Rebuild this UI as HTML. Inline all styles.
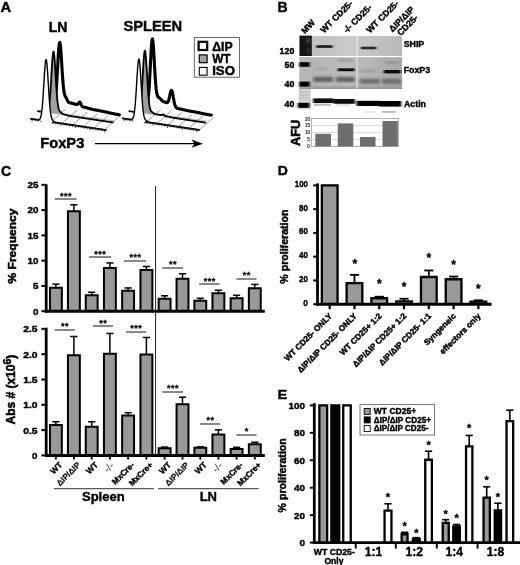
<!DOCTYPE html>
<html><head><meta charset="utf-8"><title>Figure</title>
<style>
html,body{margin:0;padding:0;background:#fff;}
body{width:520px;height:565px;overflow:hidden;}
svg{display:block;font-family:'Liberation Sans', sans-serif;}
</style></head><body>
<svg width="520" height="565" viewBox="0 0 520 565">
<rect width="520" height="565" fill="#fff"/>
<text x="0.5" y="11.9" font-size="14.8" font-weight="bold" text-anchor="start" fill="#000" stroke="#000" stroke-width="0.4" stroke-linejoin="round">A</text>
<text x="277.6" y="11.6" font-size="14" font-weight="bold" text-anchor="start" fill="#000" stroke="#000" stroke-width="0.4" stroke-linejoin="round">B</text>
<text x="0.9" y="175.7" font-size="14.1" font-weight="bold" text-anchor="start" fill="#000" stroke="#000" stroke-width="0.4" stroke-linejoin="round">C</text>
<text x="277.7" y="174.6" font-size="13.7" font-weight="bold" text-anchor="start" fill="#000" stroke="#000" stroke-width="0.4" stroke-linejoin="round" textLength="10.1" lengthAdjust="spacingAndGlyphs">D</text>
<text x="277.5" y="398.6" font-size="13.5" font-weight="bold" text-anchor="start" fill="#000" stroke="#000" stroke-width="0.4" stroke-linejoin="round" textLength="9.8" lengthAdjust="spacingAndGlyphs">E</text>
<text x="58" y="31.8" font-size="14" font-weight="bold" text-anchor="middle" fill="#000" stroke="#000" stroke-width="0.4" stroke-linejoin="round">LN</text>
<text x="123.4" y="31.2" font-size="14" font-weight="bold" text-anchor="start" fill="#000" stroke="#000" stroke-width="0.4" stroke-linejoin="round" textLength="58.8" lengthAdjust="spacingAndGlyphs">SPLEEN</text>
<text x="40.2" y="147.6" font-size="14" font-weight="bold" text-anchor="start" fill="#000" stroke="#000" stroke-width="0.4" stroke-linejoin="round" textLength="44.2" lengthAdjust="spacingAndGlyphs">FoxP3</text>
<line x1="95" y1="143.7" x2="196" y2="143.7" stroke="#000" stroke-width="1.3"/>
<path d="M203,143.7 L191.5,139.6 L194.5,143.7 L191.5,147.8 Z" fill="#000"/>
<line x1="51.5" y1="121.7" x2="65.9" y2="108.9" stroke="#9c9c9c" stroke-width="1"/>
<line x1="62.1" y1="123.3" x2="76.5" y2="110.5" stroke="#9c9c9c" stroke-width="1"/>
<line x1="72.7" y1="124.9" x2="87.1" y2="112.1" stroke="#9c9c9c" stroke-width="1"/>
<line x1="83.3" y1="126.5" x2="97.7" y2="113.7" stroke="#9c9c9c" stroke-width="1"/>
<line x1="93.9" y1="128.1" x2="108.3" y2="115.3" stroke="#9c9c9c" stroke-width="1"/>
<line x1="104.5" y1="129.7" x2="118.9" y2="116.8" stroke="#9c9c9c" stroke-width="1"/>
<line x1="51.0" y1="103.9" x2="117.6" y2="114.2" stroke="#9a9a9a" stroke-width="0.8"/>
<polygon points="45.0,103.6 45.4,103.7 45.8,103.7 46.2,103.8 46.6,103.8 47.0,103.9 47.4,104.0 47.8,104.0 48.2,104.1 48.6,104.1 49.0,104.2 49.4,104.3 49.8,104.3 50.2,104.4 50.6,104.4 51.0,104.5 51.4,104.5 51.8,104.6 52.2,104.6 52.6,104.6 53.0,104.5 53.4,104.4 53.8,104.1 54.2,103.5 54.6,102.3 55.0,100.5 55.4,97.9 55.8,94.3 56.2,89.8 56.6,84.4 57.0,78.0 57.4,71.0 57.8,63.8 58.2,56.8 58.6,50.7 59.0,46.0 59.4,43.1 59.8,42.4 60.2,44.0 60.6,47.4 61.0,52.4 61.4,58.4 61.8,64.9 62.2,71.3 62.6,77.2 63.0,82.4 63.4,86.7 63.8,90.0 64.2,92.6 64.6,94.4 65.0,95.7 65.4,96.5 65.8,97.2 66.2,97.9 66.6,98.7 67.0,99.5 67.4,100.4 67.8,101.2 68.2,101.9 68.6,102.4 69.0,102.6 69.4,102.7 69.8,102.7 70.2,102.8 70.6,102.9 71.0,103.0 71.4,103.2 71.8,103.3 72.2,103.4 72.6,103.5 73.0,103.6 73.4,103.7 73.8,103.9 74.2,104.0 74.6,104.1 75.0,104.2 75.4,104.2 75.8,104.3 76.2,104.4 76.6,104.3 77.0,104.3 77.4,104.3 77.8,104.2 78.2,103.8 78.6,103.1 79.0,102.5 79.4,102.0 79.8,102.1 80.2,102.5 80.6,103.3 81.0,104.2 81.4,105.1 81.8,105.9 82.2,106.6 82.6,106.8 83.0,106.9 83.4,107.0 83.8,107.1 84.2,107.1 84.6,107.2 85.0,107.3 85.4,107.4 85.8,107.5 86.2,107.6 86.6,107.7 87.0,107.8 87.4,108.0 87.8,108.1 88.2,108.2 88.6,108.3 89.0,108.4 89.4,108.5 89.8,108.7 90.2,108.8 90.6,108.9 91.0,109.0 91.4,109.1 91.8,109.2 92.2,109.3 92.6,109.4 93.0,109.5 93.4,109.6 93.8,109.7 94.2,109.8 94.6,109.8 95.0,109.9 95.4,110.0 95.8,110.0 96.2,110.1 96.6,110.2 97.0,110.2 97.4,110.3 97.8,110.4 98.2,110.4 98.6,110.5 99.0,110.6 99.4,110.7 99.8,110.7 100.2,110.8 100.6,110.9 101.0,111.0 101.4,111.1 101.8,111.2 102.2,111.2 102.6,111.3 103.0,111.4 103.4,111.5 103.8,111.6 104.2,111.7 104.6,111.8 105.0,111.9 105.4,111.9 105.8,112.0 106.2,112.1 106.6,112.2 107.0,112.3 107.4,112.4 107.8,112.5 108.2,112.6 108.6,112.7 109.0,112.7 109.4,112.8 109.8,112.9 110.2,113.0 110.6,113.1 111.0,113.2 111.4,113.3 111.8,113.4 112.2,113.4 112.6,113.5 113.0,113.6 113.4,113.7 113.8,113.8 114.2,113.9 114.6,113.9 115.0,114.0 115.4,114.1 115.8,114.2 116.2,114.2 116.6,114.3 117.0,114.4 117.4,114.4 117.8,114.5 118.2,114.6 118.6,114.6 119.0,114.7 119.4,114.8" fill="#fff"/>
<polyline points="45.0,103.6 45.4,103.7 45.8,103.7 46.2,103.8 46.6,103.8 47.0,103.9 47.4,104.0 47.8,104.0 48.2,104.1 48.6,104.1 49.0,104.2 49.4,104.3 49.8,104.3 50.2,104.4 50.6,104.4 51.0,104.5 51.4,104.5 51.8,104.6 52.2,104.6 52.6,104.6 53.0,104.5 53.4,104.4 53.8,104.1 54.2,103.5 54.6,102.3 55.0,100.5 55.4,97.9 55.8,94.3 56.2,89.8 56.6,84.4 57.0,78.0 57.4,71.0 57.8,63.8 58.2,56.8 58.6,50.7 59.0,46.0 59.4,43.1 59.8,42.4 60.2,44.0 60.6,47.4 61.0,52.4 61.4,58.4 61.8,64.9 62.2,71.3 62.6,77.2 63.0,82.4 63.4,86.7 63.8,90.0 64.2,92.6 64.6,94.4 65.0,95.7 65.4,96.5 65.8,97.2 66.2,97.9 66.6,98.7 67.0,99.5 67.4,100.4 67.8,101.2 68.2,101.9 68.6,102.4 69.0,102.6 69.4,102.7 69.8,102.7 70.2,102.8 70.6,102.9 71.0,103.0 71.4,103.2 71.8,103.3 72.2,103.4 72.6,103.5 73.0,103.6 73.4,103.7 73.8,103.9 74.2,104.0 74.6,104.1 75.0,104.2 75.4,104.2 75.8,104.3 76.2,104.4 76.6,104.3 77.0,104.3 77.4,104.3 77.8,104.2 78.2,103.8 78.6,103.1 79.0,102.5 79.4,102.0 79.8,102.1 80.2,102.5 80.6,103.3 81.0,104.2 81.4,105.1 81.8,105.9 82.2,106.6 82.6,106.8 83.0,106.9 83.4,107.0 83.8,107.1 84.2,107.1 84.6,107.2 85.0,107.3 85.4,107.4 85.8,107.5 86.2,107.6 86.6,107.7 87.0,107.8 87.4,108.0 87.8,108.1 88.2,108.2 88.6,108.3 89.0,108.4 89.4,108.5 89.8,108.7 90.2,108.8 90.6,108.9 91.0,109.0 91.4,109.1 91.8,109.2 92.2,109.3 92.6,109.4 93.0,109.5 93.4,109.6 93.8,109.7 94.2,109.8 94.6,109.8 95.0,109.9 95.4,110.0 95.8,110.0 96.2,110.1 96.6,110.2 97.0,110.2 97.4,110.3 97.8,110.4 98.2,110.4 98.6,110.5 99.0,110.6 99.4,110.7 99.8,110.7 100.2,110.8 100.6,110.9 101.0,111.0 101.4,111.1 101.8,111.2 102.2,111.2 102.6,111.3 103.0,111.4 103.4,111.5 103.8,111.6 104.2,111.7 104.6,111.8 105.0,111.9 105.4,111.9 105.8,112.0 106.2,112.1 106.6,112.2 107.0,112.3 107.4,112.4 107.8,112.5 108.2,112.6 108.6,112.7 109.0,112.7 109.4,112.8 109.8,112.9 110.2,113.0 110.6,113.1 111.0,113.2 111.4,113.3 111.8,113.4 112.2,113.4 112.6,113.5 113.0,113.6 113.4,113.7 113.8,113.8 114.2,113.9 114.6,113.9 115.0,114.0 115.4,114.1 115.8,114.2 116.2,114.2 116.6,114.3 117.0,114.4 117.4,114.4 117.8,114.5 118.2,114.6 118.6,114.6 119.0,114.7 119.4,114.8" fill="none" stroke="#000" stroke-width="3.1" stroke-linejoin="round" stroke-linecap="round"/>
<polygon points="38.0,111.2 38.4,111.3 38.8,111.3 39.2,111.4 39.6,111.4 40.0,111.5 40.4,111.6 40.8,111.6 41.2,111.7 41.6,111.7 42.0,111.8 42.4,111.9 42.8,111.9 43.2,112.0 43.6,112.0 44.0,112.1 44.4,112.2 44.8,112.2 45.2,112.3 45.6,112.3 46.0,112.3 46.4,112.2 46.8,112.1 47.2,111.9 47.6,111.4 48.0,110.6 48.4,109.4 48.8,107.6 49.2,105.0 49.6,101.5 50.0,97.1 50.4,91.7 50.8,85.5 51.2,78.7 51.6,71.8 52.0,65.1 52.4,59.3 52.8,54.8 53.2,52.2 53.6,51.6 54.0,53.2 54.4,56.8 54.8,61.9 55.2,68.1 55.6,74.9 56.0,81.7 56.4,88.1 56.8,93.8 57.2,98.6 57.6,102.4 58.0,105.4 58.4,107.6 58.8,109.2 59.2,110.3 59.6,111.0 60.0,111.5 60.4,111.8 60.8,112.2 61.2,112.5 61.6,112.9 62.0,113.2 62.4,113.6 62.8,113.9 63.2,114.2 63.6,114.4 64.0,114.5 64.4,114.6 64.8,114.6 65.2,114.7 65.6,114.8 66.0,115.0 66.4,115.1 66.8,115.2 67.2,115.3 67.6,115.4 68.0,115.5 68.4,115.7 68.8,115.8 69.2,115.9 69.6,115.9 70.0,116.0 70.4,116.1 70.8,116.1 71.2,116.2 71.6,116.2 72.0,116.3 72.4,116.4 72.8,116.4 73.2,116.5 73.6,116.5 74.0,116.6 74.4,116.7 74.8,116.7 75.2,116.8 75.6,116.8 76.0,116.9 76.4,117.0 76.8,117.0 77.2,117.1 77.6,117.1 78.0,117.2 78.4,117.3 78.8,117.3 79.2,117.4 79.6,117.4 80.0,117.5 80.4,117.6 80.8,117.6 81.2,117.7 81.6,117.7 82.0,117.8 82.4,117.9 82.8,117.9 83.2,118.0 83.6,118.0 84.0,118.1 84.4,118.2 84.8,118.2 85.2,118.3 85.6,118.3 86.0,118.4 86.4,118.5 86.8,118.5 87.2,118.6 87.6,118.6 88.0,118.7 88.4,118.8 88.8,118.8 89.2,118.9 89.6,118.9 90.0,119.0 90.4,119.1 90.8,119.1 91.2,119.2 91.6,119.2 92.0,119.3 92.4,119.4 92.8,119.4 93.2,119.5 93.6,119.5 94.0,119.6 94.4,119.7 94.8,119.7 95.2,119.8 95.6,119.8 96.0,119.9 96.4,120.0 96.8,120.0 97.2,120.1 97.6,120.1 98.0,120.2 98.4,120.3 98.8,120.3 99.2,120.4 99.6,120.4 100.0,120.5 100.4,120.6 100.8,120.6 101.2,120.7 101.6,120.7 102.0,120.8 102.4,120.9 102.8,120.9 103.2,121.0 103.6,121.0 104.0,121.1 104.4,121.2 104.8,121.2 105.2,121.3 105.6,121.3 106.0,121.4 106.4,121.5 106.8,121.5 107.2,121.6 107.6,121.6 108.0,121.7 108.4,121.8 108.8,121.8 109.2,121.9 109.6,121.9 110.0,122.0 110.4,122.1 110.8,122.1 111.2,122.2 111.6,122.2 112.0,122.3 112.4,122.4 112.8,122.4" fill="#a0a0a0"/>
<line x1="52.0" y1="112.1" x2="115.0" y2="121.0" stroke="#a5a5a5" stroke-width="0.8"/>
<polyline points="38.0,111.2 38.4,111.3 38.8,111.3 39.2,111.4 39.6,111.4 40.0,111.5 40.4,111.6 40.8,111.6 41.2,111.7 41.6,111.7 42.0,111.8 42.4,111.9 42.8,111.9 43.2,112.0 43.6,112.0 44.0,112.1 44.4,112.2 44.8,112.2 45.2,112.3 45.6,112.3 46.0,112.3 46.4,112.2 46.8,112.1 47.2,111.9 47.6,111.4 48.0,110.6 48.4,109.4 48.8,107.6 49.2,105.0 49.6,101.5 50.0,97.1 50.4,91.7 50.8,85.5 51.2,78.7 51.6,71.8 52.0,65.1 52.4,59.3 52.8,54.8 53.2,52.2 53.6,51.6 54.0,53.2 54.4,56.8 54.8,61.9 55.2,68.1 55.6,74.9 56.0,81.7 56.4,88.1 56.8,93.8 57.2,98.6 57.6,102.4 58.0,105.4 58.4,107.6 58.8,109.2 59.2,110.3 59.6,111.0 60.0,111.5 60.4,111.8 60.8,112.2 61.2,112.5 61.6,112.9 62.0,113.2 62.4,113.6 62.8,113.9 63.2,114.2 63.6,114.4 64.0,114.5 64.4,114.6 64.8,114.6 65.2,114.7 65.6,114.8 66.0,115.0 66.4,115.1 66.8,115.2 67.2,115.3 67.6,115.4 68.0,115.5 68.4,115.7 68.8,115.8 69.2,115.9 69.6,115.9 70.0,116.0 70.4,116.1 70.8,116.1 71.2,116.2 71.6,116.2 72.0,116.3 72.4,116.4 72.8,116.4 73.2,116.5 73.6,116.5 74.0,116.6 74.4,116.7 74.8,116.7 75.2,116.8 75.6,116.8 76.0,116.9 76.4,117.0 76.8,117.0 77.2,117.1 77.6,117.1 78.0,117.2 78.4,117.3 78.8,117.3 79.2,117.4 79.6,117.4 80.0,117.5 80.4,117.6 80.8,117.6 81.2,117.7 81.6,117.7 82.0,117.8 82.4,117.9 82.8,117.9 83.2,118.0 83.6,118.0 84.0,118.1 84.4,118.2 84.8,118.2 85.2,118.3 85.6,118.3 86.0,118.4 86.4,118.5 86.8,118.5 87.2,118.6 87.6,118.6 88.0,118.7 88.4,118.8 88.8,118.8 89.2,118.9 89.6,118.9 90.0,119.0 90.4,119.1 90.8,119.1 91.2,119.2 91.6,119.2 92.0,119.3 92.4,119.4 92.8,119.4 93.2,119.5 93.6,119.5 94.0,119.6 94.4,119.7 94.8,119.7 95.2,119.8 95.6,119.8 96.0,119.9 96.4,120.0 96.8,120.0 97.2,120.1 97.6,120.1 98.0,120.2 98.4,120.3 98.8,120.3 99.2,120.4 99.6,120.4 100.0,120.5 100.4,120.6 100.8,120.6 101.2,120.7 101.6,120.7 102.0,120.8 102.4,120.9 102.8,120.9 103.2,121.0 103.6,121.0 104.0,121.1 104.4,121.2 104.8,121.2 105.2,121.3 105.6,121.3 106.0,121.4 106.4,121.5 106.8,121.5 107.2,121.6 107.6,121.6 108.0,121.7 108.4,121.8 108.8,121.8 109.2,121.9 109.6,121.9 110.0,122.0 110.4,122.1 110.8,122.1 111.2,122.2 111.6,122.2 112.0,122.3 112.4,122.4 112.8,122.4" fill="none" stroke="#000" stroke-width="1.8" stroke-linejoin="round" stroke-linecap="round"/>
<polygon points="30.6,118.6 31.0,118.7 31.4,118.7 31.8,118.8 32.2,118.8 32.6,118.9 33.0,119.0 33.4,119.0 33.8,119.1 34.2,119.1 34.6,119.2 35.0,119.3 35.4,119.3 35.8,119.4 36.2,119.4 36.6,119.5 37.0,119.5 37.4,119.6 37.8,119.6 38.2,119.7 38.6,119.6 39.0,119.5 39.4,119.4 39.8,119.0 40.2,118.4 40.6,117.5 41.0,116.0 41.4,114.0 41.8,111.2 42.2,107.5 42.6,103.0 43.0,97.6 43.4,91.5 43.8,84.9 44.2,78.2 44.6,71.9 45.0,66.4 45.4,62.3 45.8,59.9 46.2,59.5 46.6,61.1 47.0,64.4 47.4,69.3 47.8,75.3 48.2,81.9 48.6,88.6 49.0,95.0 49.4,100.7 49.8,105.7 50.2,109.8 50.6,113.1 51.0,115.5 51.4,117.3 51.8,118.6 52.2,119.4 52.6,120.0 53.0,120.5 53.4,120.9 53.8,121.3 54.2,121.6 54.6,121.8 55.0,122.1 55.4,122.2 55.8,122.4 56.2,122.4 56.6,122.5 57.0,122.6 57.4,122.6 57.8,122.7 58.2,122.7 58.6,122.8 59.0,122.9 59.4,122.9 59.8,123.0 60.2,123.0 60.6,123.1 61.0,123.2 61.4,123.2 61.8,123.3 62.2,123.3 62.6,123.4 63.0,123.5 63.4,123.5 63.8,123.6 64.2,123.6 64.6,123.7 65.0,123.8 65.4,123.8 65.8,123.9 66.2,123.9 66.6,124.0 67.0,124.1 67.4,124.1 67.8,124.2 68.2,124.2 68.6,124.3 69.0,124.4 69.4,124.4 69.8,124.5 70.2,124.5 70.6,124.6 71.0,124.7 71.4,124.7 71.8,124.8 72.2,124.8 72.6,124.9 73.0,125.0 73.4,125.0 73.8,125.1 74.2,125.1 74.6,125.2 75.0,125.3 75.4,125.3 75.8,125.4 76.2,125.4 76.6,125.5 77.0,125.6 77.4,125.6 77.8,125.7 78.2,125.7 78.6,125.8 79.0,125.9 79.4,125.9 79.8,126.0 80.2,126.0 80.6,126.1 81.0,126.2 81.4,126.2 81.8,126.3 82.2,126.3 82.6,126.4 83.0,126.5 83.4,126.5 83.8,126.6 84.2,126.6 84.6,126.7 85.0,126.8 85.4,126.8 85.8,126.9 86.2,126.9 86.6,127.0 87.0,127.1 87.4,127.1 87.8,127.2 88.2,127.2 88.6,127.3 89.0,127.4 89.4,127.4 89.8,127.5 90.2,127.5 90.6,127.6 91.0,127.7 91.4,127.7 91.8,127.8 92.2,127.8 92.6,127.9 93.0,128.0 93.4,128.0 93.8,128.1 94.2,128.1 94.6,128.2 95.0,128.3 95.4,128.3 95.8,128.4 96.2,128.4 96.6,128.5 97.0,128.6 97.4,128.6 97.8,128.7 98.2,128.7 98.6,128.8 99.0,128.9 99.4,128.9 99.8,129.0 100.2,129.0 100.6,129.1 101.0,129.2 101.4,129.2 101.8,129.3 102.2,129.3 102.6,129.4 103.0,129.5 103.4,129.5 103.8,129.6 104.2,129.6 104.6,129.7 105.0,129.8 105.4,129.8 105.8,129.9 106.2,129.9" fill="#fff"/>
<polyline points="30.6,118.6 31.0,118.7 31.4,118.7 31.8,118.8 32.2,118.8 32.6,118.9 33.0,119.0 33.4,119.0 33.8,119.1 34.2,119.1 34.6,119.2 35.0,119.3 35.4,119.3 35.8,119.4 36.2,119.4 36.6,119.5 37.0,119.5 37.4,119.6 37.8,119.6 38.2,119.7 38.6,119.6 39.0,119.5 39.4,119.4 39.8,119.0 40.2,118.4 40.6,117.5 41.0,116.0 41.4,114.0 41.8,111.2 42.2,107.5 42.6,103.0 43.0,97.6 43.4,91.5 43.8,84.9 44.2,78.2 44.6,71.9 45.0,66.4 45.4,62.3 45.8,59.9 46.2,59.5 46.6,61.1 47.0,64.4 47.4,69.3 47.8,75.3 48.2,81.9 48.6,88.6 49.0,95.0 49.4,100.7 49.8,105.7 50.2,109.8 50.6,113.1 51.0,115.5 51.4,117.3 51.8,118.6 52.2,119.4 52.6,120.0 53.0,120.5 53.4,120.9 53.8,121.3 54.2,121.6 54.6,121.8 55.0,122.1 55.4,122.2 55.8,122.4 56.2,122.4 56.6,122.5 57.0,122.6 57.4,122.6 57.8,122.7 58.2,122.7 58.6,122.8 59.0,122.9 59.4,122.9 59.8,123.0 60.2,123.0 60.6,123.1 61.0,123.2 61.4,123.2 61.8,123.3 62.2,123.3 62.6,123.4 63.0,123.5 63.4,123.5 63.8,123.6 64.2,123.6 64.6,123.7 65.0,123.8 65.4,123.8 65.8,123.9 66.2,123.9 66.6,124.0 67.0,124.1 67.4,124.1 67.8,124.2 68.2,124.2 68.6,124.3 69.0,124.4 69.4,124.4 69.8,124.5 70.2,124.5 70.6,124.6 71.0,124.7 71.4,124.7 71.8,124.8 72.2,124.8 72.6,124.9 73.0,125.0 73.4,125.0 73.8,125.1 74.2,125.1 74.6,125.2 75.0,125.3 75.4,125.3 75.8,125.4 76.2,125.4 76.6,125.5 77.0,125.6 77.4,125.6 77.8,125.7 78.2,125.7 78.6,125.8 79.0,125.9 79.4,125.9 79.8,126.0 80.2,126.0 80.6,126.1 81.0,126.2 81.4,126.2 81.8,126.3 82.2,126.3 82.6,126.4 83.0,126.5 83.4,126.5 83.8,126.6 84.2,126.6 84.6,126.7 85.0,126.8 85.4,126.8 85.8,126.9 86.2,126.9 86.6,127.0 87.0,127.1 87.4,127.1 87.8,127.2 88.2,127.2 88.6,127.3 89.0,127.4 89.4,127.4 89.8,127.5 90.2,127.5 90.6,127.6 91.0,127.7 91.4,127.7 91.8,127.8 92.2,127.8 92.6,127.9 93.0,128.0 93.4,128.0 93.8,128.1 94.2,128.1 94.6,128.2 95.0,128.3 95.4,128.3 95.8,128.4 96.2,128.4 96.6,128.5 97.0,128.6 97.4,128.6 97.8,128.7 98.2,128.7 98.6,128.8 99.0,128.9 99.4,128.9 99.8,129.0 100.2,129.0 100.6,129.1 101.0,129.2 101.4,129.2 101.8,129.3 102.2,129.3 102.6,129.4 103.0,129.5 103.4,129.5 103.8,129.6 104.2,129.6 104.6,129.7 105.0,129.8 105.4,129.8 105.8,129.9 106.2,129.9" fill="none" stroke="#000" stroke-width="1.4" stroke-linejoin="round" stroke-linecap="round"/>
<line x1="52.1" y1="122.2" x2="106.2" y2="130.3" stroke="#111" stroke-width="1.6"/>
<line x1="30.6" y1="118.9" x2="39.6" y2="120.2" stroke="#111" stroke-width="1.5"/>
<line x1="32.1" y1="119.3" x2="32.1" y2="121.7" stroke="#222" stroke-width="0.8"/>
<line x1="35.0" y1="119.8" x2="35.0" y2="121.3" stroke="#222" stroke-width="0.8"/>
<line x1="37.9" y1="120.2" x2="37.9" y2="121.7" stroke="#222" stroke-width="0.8"/>
<line x1="40.8" y1="120.6" x2="40.8" y2="122.1" stroke="#222" stroke-width="0.8"/>
<line x1="52.4" y1="122.4" x2="52.4" y2="123.9" stroke="#222" stroke-width="0.8"/>
<line x1="55.3" y1="122.8" x2="55.3" y2="124.3" stroke="#222" stroke-width="0.8"/>
<line x1="58.2" y1="123.2" x2="58.2" y2="124.7" stroke="#222" stroke-width="0.8"/>
<line x1="61.1" y1="123.7" x2="61.1" y2="126.1" stroke="#222" stroke-width="0.8"/>
<line x1="64.0" y1="124.1" x2="64.0" y2="125.6" stroke="#222" stroke-width="0.8"/>
<line x1="66.9" y1="124.5" x2="66.9" y2="126.0" stroke="#222" stroke-width="0.8"/>
<line x1="69.8" y1="125.0" x2="69.8" y2="126.5" stroke="#222" stroke-width="0.8"/>
<line x1="72.7" y1="125.4" x2="72.7" y2="126.9" stroke="#222" stroke-width="0.8"/>
<line x1="75.6" y1="125.8" x2="75.6" y2="128.2" stroke="#222" stroke-width="0.8"/>
<line x1="78.5" y1="126.3" x2="78.5" y2="127.8" stroke="#222" stroke-width="0.8"/>
<line x1="81.4" y1="126.7" x2="81.4" y2="128.2" stroke="#222" stroke-width="0.8"/>
<line x1="84.3" y1="127.2" x2="84.3" y2="128.7" stroke="#222" stroke-width="0.8"/>
<line x1="87.2" y1="127.6" x2="87.2" y2="129.1" stroke="#222" stroke-width="0.8"/>
<line x1="90.1" y1="128.0" x2="90.1" y2="130.4" stroke="#222" stroke-width="0.8"/>
<line x1="93.0" y1="128.5" x2="93.0" y2="130.0" stroke="#222" stroke-width="0.8"/>
<line x1="95.9" y1="128.9" x2="95.9" y2="130.4" stroke="#222" stroke-width="0.8"/>
<line x1="98.8" y1="129.3" x2="98.8" y2="130.8" stroke="#222" stroke-width="0.8"/>
<line x1="101.7" y1="129.8" x2="101.7" y2="131.3" stroke="#222" stroke-width="0.8"/>
<line x1="104.6" y1="130.2" x2="104.6" y2="132.6" stroke="#222" stroke-width="0.8"/>
<line x1="146.5" y1="121.8" x2="160.5" y2="109.6" stroke="#9c9c9c" stroke-width="1"/>
<line x1="157.1" y1="123.4" x2="171.1" y2="111.2" stroke="#9c9c9c" stroke-width="1"/>
<line x1="167.7" y1="125.0" x2="181.7" y2="112.8" stroke="#9c9c9c" stroke-width="1"/>
<line x1="178.3" y1="126.6" x2="192.3" y2="114.4" stroke="#9c9c9c" stroke-width="1"/>
<line x1="188.9" y1="128.2" x2="202.9" y2="116.0" stroke="#9c9c9c" stroke-width="1"/>
<line x1="199.5" y1="129.8" x2="213.5" y2="117.5" stroke="#9c9c9c" stroke-width="1"/>
<line x1="142.5" y1="104.2" x2="209.5" y2="114.6" stroke="#9a9a9a" stroke-width="0.8"/>
<polygon points="136.5,103.9 136.9,104.0 137.3,104.0 137.7,104.1 138.1,104.1 138.5,104.2 138.9,104.3 139.3,104.3 139.7,104.4 140.1,104.4 140.5,104.5 140.9,104.6 141.3,104.6 141.7,104.7 142.1,104.7 142.5,104.8 142.9,104.9 143.3,104.9 143.7,105.0 144.1,105.0 144.5,105.1 144.9,105.1 145.3,105.2 145.7,105.2 146.1,105.1 146.5,104.7 146.9,104.0 147.3,102.7 147.7,100.9 148.1,98.4 148.5,95.0 148.9,90.5 149.3,84.9 149.7,78.3 150.1,70.8 150.5,62.9 150.9,55.1 151.3,48.1 151.7,42.7 152.1,39.5 152.5,38.9 152.9,40.8 153.3,44.9 153.7,50.8 154.1,57.8 154.5,65.2 154.9,72.2 155.3,78.6 155.7,83.9 156.1,88.2 156.5,91.4 156.9,93.7 157.3,95.3 157.7,96.3 158.1,97.0 158.5,97.4 158.9,97.6 159.3,97.9 159.7,98.2 160.1,98.6 160.5,99.0 160.9,99.4 161.3,99.8 161.7,100.2 162.1,100.6 162.5,101.0 162.9,101.3 163.3,101.6 163.7,101.8 164.1,101.8 164.5,101.9 164.9,102.1 165.3,102.2 165.7,102.4 166.1,102.6 166.5,102.7 166.9,102.7 167.3,102.6 167.7,102.3 168.1,101.7 168.5,100.7 168.9,99.4 169.3,97.8 169.7,96.0 170.1,94.1 170.5,92.4 170.9,91.1 171.3,90.4 171.7,90.5 172.1,91.4 172.5,93.0 172.9,95.0 173.3,97.3 173.7,99.5 174.1,101.6 174.5,103.4 174.9,104.8 175.3,105.9 175.7,106.8 176.1,107.4 176.5,107.8 176.9,108.1 177.3,108.3 177.7,108.4 178.1,108.5 178.5,108.6 178.9,108.7 179.3,108.7 179.7,108.8 180.1,108.9 180.5,109.0 180.9,109.1 181.3,109.2 181.7,109.3 182.1,109.4 182.5,109.5 182.9,109.6 183.3,109.7 183.7,109.8 184.1,109.8 184.5,109.9 184.9,110.0 185.3,110.1 185.7,110.2 186.1,110.3 186.5,110.4 186.9,110.5 187.3,110.6 187.7,110.7 188.1,110.8 188.5,110.9 188.9,110.9 189.3,111.0 189.7,111.1 190.1,111.1 190.5,111.2 190.9,111.3 191.3,111.3 191.7,111.4 192.1,111.5 192.5,111.5 192.9,111.6 193.3,111.7 193.7,111.7 194.1,111.8 194.5,111.9 194.9,112.0 195.3,112.0 195.7,112.1 196.1,112.2 196.5,112.3 196.9,112.4 197.3,112.4 197.7,112.5 198.1,112.6 198.5,112.7 198.9,112.8 199.3,112.9 199.7,112.9 200.1,113.0 200.5,113.1 200.9,113.2 201.3,113.3 201.7,113.3 202.1,113.4 202.5,113.5 202.9,113.6 203.3,113.7 203.7,113.8 204.1,113.8 204.5,113.9 204.9,114.0 205.3,114.1 205.7,114.2 206.1,114.2 206.5,114.3 206.9,114.4 207.3,114.5 207.7,114.5 208.1,114.6 208.5,114.7 208.9,114.7 209.3,114.8 209.7,114.9 210.1,114.9 210.5,115.0 210.9,115.1 211.3,115.1" fill="#fff"/>
<polyline points="136.5,103.9 136.9,104.0 137.3,104.0 137.7,104.1 138.1,104.1 138.5,104.2 138.9,104.3 139.3,104.3 139.7,104.4 140.1,104.4 140.5,104.5 140.9,104.6 141.3,104.6 141.7,104.7 142.1,104.7 142.5,104.8 142.9,104.9 143.3,104.9 143.7,105.0 144.1,105.0 144.5,105.1 144.9,105.1 145.3,105.2 145.7,105.2 146.1,105.1 146.5,104.7 146.9,104.0 147.3,102.7 147.7,100.9 148.1,98.4 148.5,95.0 148.9,90.5 149.3,84.9 149.7,78.3 150.1,70.8 150.5,62.9 150.9,55.1 151.3,48.1 151.7,42.7 152.1,39.5 152.5,38.9 152.9,40.8 153.3,44.9 153.7,50.8 154.1,57.8 154.5,65.2 154.9,72.2 155.3,78.6 155.7,83.9 156.1,88.2 156.5,91.4 156.9,93.7 157.3,95.3 157.7,96.3 158.1,97.0 158.5,97.4 158.9,97.6 159.3,97.9 159.7,98.2 160.1,98.6 160.5,99.0 160.9,99.4 161.3,99.8 161.7,100.2 162.1,100.6 162.5,101.0 162.9,101.3 163.3,101.6 163.7,101.8 164.1,101.8 164.5,101.9 164.9,102.1 165.3,102.2 165.7,102.4 166.1,102.6 166.5,102.7 166.9,102.7 167.3,102.6 167.7,102.3 168.1,101.7 168.5,100.7 168.9,99.4 169.3,97.8 169.7,96.0 170.1,94.1 170.5,92.4 170.9,91.1 171.3,90.4 171.7,90.5 172.1,91.4 172.5,93.0 172.9,95.0 173.3,97.3 173.7,99.5 174.1,101.6 174.5,103.4 174.9,104.8 175.3,105.9 175.7,106.8 176.1,107.4 176.5,107.8 176.9,108.1 177.3,108.3 177.7,108.4 178.1,108.5 178.5,108.6 178.9,108.7 179.3,108.7 179.7,108.8 180.1,108.9 180.5,109.0 180.9,109.1 181.3,109.2 181.7,109.3 182.1,109.4 182.5,109.5 182.9,109.6 183.3,109.7 183.7,109.8 184.1,109.8 184.5,109.9 184.9,110.0 185.3,110.1 185.7,110.2 186.1,110.3 186.5,110.4 186.9,110.5 187.3,110.6 187.7,110.7 188.1,110.8 188.5,110.9 188.9,110.9 189.3,111.0 189.7,111.1 190.1,111.1 190.5,111.2 190.9,111.3 191.3,111.3 191.7,111.4 192.1,111.5 192.5,111.5 192.9,111.6 193.3,111.7 193.7,111.7 194.1,111.8 194.5,111.9 194.9,112.0 195.3,112.0 195.7,112.1 196.1,112.2 196.5,112.3 196.9,112.4 197.3,112.4 197.7,112.5 198.1,112.6 198.5,112.7 198.9,112.8 199.3,112.9 199.7,112.9 200.1,113.0 200.5,113.1 200.9,113.2 201.3,113.3 201.7,113.3 202.1,113.4 202.5,113.5 202.9,113.6 203.3,113.7 203.7,113.8 204.1,113.8 204.5,113.9 204.9,114.0 205.3,114.1 205.7,114.2 206.1,114.2 206.5,114.3 206.9,114.4 207.3,114.5 207.7,114.5 208.1,114.6 208.5,114.7 208.9,114.7 209.3,114.8 209.7,114.9 210.1,114.9 210.5,115.0 210.9,115.1 211.3,115.1" fill="none" stroke="#000" stroke-width="3.1" stroke-linejoin="round" stroke-linecap="round"/>
<polygon points="129.4,111.2 129.8,111.3 130.2,111.3 130.6,111.4 131.0,111.4 131.4,111.5 131.8,111.6 132.2,111.6 132.6,111.7 133.0,111.7 133.4,111.8 133.8,111.9 134.2,111.9 134.6,112.0 135.0,112.0 135.4,112.1 135.8,112.2 136.2,112.2 136.6,112.3 137.0,112.3 137.4,112.3 137.8,112.2 138.2,112.1 138.6,111.8 139.0,111.4 139.4,110.6 139.8,109.3 140.2,107.4 140.6,104.7 141.0,101.1 141.4,96.6 141.8,91.1 142.2,84.8 142.6,77.9 143.0,70.9 143.4,64.1 143.8,58.2 144.2,53.7 144.6,51.1 145.0,50.6 145.4,52.3 145.8,55.9 146.2,61.1 146.6,67.4 147.0,74.3 147.4,81.2 147.8,87.7 148.2,93.4 148.6,98.3 149.0,102.2 149.4,105.2 149.8,107.5 150.2,109.1 150.6,110.1 151.0,110.9 151.4,111.4 151.8,111.8 152.2,112.1 152.6,112.4 153.0,112.7 153.4,113.0 153.8,113.3 154.2,113.5 154.6,113.8 155.0,114.0 155.4,114.1 155.8,114.3 156.2,114.3 156.6,114.4 157.0,114.4 157.4,114.5 157.8,114.6 158.2,114.6 158.6,114.7 159.0,114.7 159.4,114.8 159.8,114.9 160.2,114.9 160.6,115.0 161.0,115.0 161.4,115.0 161.8,114.8 162.2,114.6 162.6,114.5 163.0,114.4 163.4,114.6 163.8,114.8 164.2,115.1 164.6,115.5 165.0,115.9 165.4,116.1 165.8,116.3 166.2,116.4 166.6,116.5 167.0,116.6 167.4,116.6 167.8,116.7 168.2,116.8 168.6,116.8 169.0,116.9 169.4,117.0 169.8,117.1 170.2,117.2 170.6,117.2 171.0,117.3 171.4,117.4 171.8,117.5 172.2,117.6 172.6,117.6 173.0,117.7 173.4,117.8 173.8,117.8 174.2,117.9 174.6,118.0 175.0,118.0 175.4,118.1 175.8,118.2 176.2,118.2 176.6,118.3 177.0,118.3 177.4,118.4 177.8,118.5 178.2,118.5 178.6,118.6 179.0,118.6 179.4,118.7 179.8,118.8 180.2,118.8 180.6,118.9 181.0,118.9 181.4,119.0 181.8,119.1 182.2,119.1 182.6,119.2 183.0,119.2 183.4,119.3 183.8,119.4 184.2,119.4 184.6,119.5 185.0,119.5 185.4,119.6 185.8,119.7 186.2,119.7 186.6,119.8 187.0,119.8 187.4,119.9 187.8,120.0 188.2,120.0 188.6,120.1 189.0,120.1 189.4,120.2 189.8,120.3 190.2,120.3 190.6,120.4 191.0,120.4 191.4,120.5 191.8,120.6 192.2,120.6 192.6,120.7 193.0,120.7 193.4,120.8 193.8,120.9 194.2,120.9 194.6,121.0 195.0,121.0 195.4,121.1 195.8,121.2 196.2,121.2 196.6,121.3 197.0,121.3 197.4,121.4 197.8,121.5 198.2,121.5 198.6,121.6 199.0,121.6 199.4,121.7 199.8,121.8 200.2,121.8 200.6,121.9 201.0,121.9 201.4,122.0 201.8,122.1 202.2,122.1 202.6,122.2 203.0,122.2 203.4,122.3 203.8,122.4 204.2,122.4 204.6,122.5 205.0,122.5 205.4,122.6" fill="#a0a0a0"/>
<line x1="143.4" y1="112.1" x2="207.4" y2="121.2" stroke="#a5a5a5" stroke-width="0.8"/>
<polyline points="129.4,111.2 129.8,111.3 130.2,111.3 130.6,111.4 131.0,111.4 131.4,111.5 131.8,111.6 132.2,111.6 132.6,111.7 133.0,111.7 133.4,111.8 133.8,111.9 134.2,111.9 134.6,112.0 135.0,112.0 135.4,112.1 135.8,112.2 136.2,112.2 136.6,112.3 137.0,112.3 137.4,112.3 137.8,112.2 138.2,112.1 138.6,111.8 139.0,111.4 139.4,110.6 139.8,109.3 140.2,107.4 140.6,104.7 141.0,101.1 141.4,96.6 141.8,91.1 142.2,84.8 142.6,77.9 143.0,70.9 143.4,64.1 143.8,58.2 144.2,53.7 144.6,51.1 145.0,50.6 145.4,52.3 145.8,55.9 146.2,61.1 146.6,67.4 147.0,74.3 147.4,81.2 147.8,87.7 148.2,93.4 148.6,98.3 149.0,102.2 149.4,105.2 149.8,107.5 150.2,109.1 150.6,110.1 151.0,110.9 151.4,111.4 151.8,111.8 152.2,112.1 152.6,112.4 153.0,112.7 153.4,113.0 153.8,113.3 154.2,113.5 154.6,113.8 155.0,114.0 155.4,114.1 155.8,114.3 156.2,114.3 156.6,114.4 157.0,114.4 157.4,114.5 157.8,114.6 158.2,114.6 158.6,114.7 159.0,114.7 159.4,114.8 159.8,114.9 160.2,114.9 160.6,115.0 161.0,115.0 161.4,115.0 161.8,114.8 162.2,114.6 162.6,114.5 163.0,114.4 163.4,114.6 163.8,114.8 164.2,115.1 164.6,115.5 165.0,115.9 165.4,116.1 165.8,116.3 166.2,116.4 166.6,116.5 167.0,116.6 167.4,116.6 167.8,116.7 168.2,116.8 168.6,116.8 169.0,116.9 169.4,117.0 169.8,117.1 170.2,117.2 170.6,117.2 171.0,117.3 171.4,117.4 171.8,117.5 172.2,117.6 172.6,117.6 173.0,117.7 173.4,117.8 173.8,117.8 174.2,117.9 174.6,118.0 175.0,118.0 175.4,118.1 175.8,118.2 176.2,118.2 176.6,118.3 177.0,118.3 177.4,118.4 177.8,118.5 178.2,118.5 178.6,118.6 179.0,118.6 179.4,118.7 179.8,118.8 180.2,118.8 180.6,118.9 181.0,118.9 181.4,119.0 181.8,119.1 182.2,119.1 182.6,119.2 183.0,119.2 183.4,119.3 183.8,119.4 184.2,119.4 184.6,119.5 185.0,119.5 185.4,119.6 185.8,119.7 186.2,119.7 186.6,119.8 187.0,119.8 187.4,119.9 187.8,120.0 188.2,120.0 188.6,120.1 189.0,120.1 189.4,120.2 189.8,120.3 190.2,120.3 190.6,120.4 191.0,120.4 191.4,120.5 191.8,120.6 192.2,120.6 192.6,120.7 193.0,120.7 193.4,120.8 193.8,120.9 194.2,120.9 194.6,121.0 195.0,121.0 195.4,121.1 195.8,121.2 196.2,121.2 196.6,121.3 197.0,121.3 197.4,121.4 197.8,121.5 198.2,121.5 198.6,121.6 199.0,121.6 199.4,121.7 199.8,121.8 200.2,121.8 200.6,121.9 201.0,121.9 201.4,122.0 201.8,122.1 202.2,122.1 202.6,122.2 203.0,122.2 203.4,122.3 203.8,122.4 204.2,122.4 204.6,122.5 205.0,122.5 205.4,122.6" fill="none" stroke="#000" stroke-width="1.8" stroke-linejoin="round" stroke-linecap="round"/>
<polygon points="122.5,118.2 122.9,118.3 123.3,118.3 123.7,118.4 124.1,118.4 124.5,118.5 124.9,118.6 125.3,118.6 125.7,118.7 126.1,118.7 126.5,118.8 126.9,118.9 127.3,118.9 127.7,119.0 128.1,119.0 128.5,119.1 128.9,119.2 129.3,119.2 129.7,119.3 130.1,119.3 130.5,119.4 130.9,119.4 131.3,119.4 131.7,119.3 132.1,119.2 132.5,118.8 132.9,118.3 133.3,117.4 133.7,116.0 134.1,114.1 134.5,111.4 134.9,108.0 135.3,103.7 135.7,98.5 136.1,92.5 136.5,86.0 136.9,79.4 137.3,72.9 137.7,67.2 138.1,62.7 138.5,59.8 138.9,58.9 139.3,59.9 139.7,62.9 140.1,67.4 140.5,73.2 140.9,79.7 141.3,86.4 141.7,93.0 142.1,99.0 142.5,104.2 142.9,108.5 143.3,112.0 143.7,114.6 144.1,116.6 144.5,118.0 144.9,118.9 145.3,119.6 145.7,120.1 146.1,120.5 146.5,120.8 146.9,121.1 147.3,121.4 147.7,121.7 148.1,121.9 148.5,122.0 148.9,122.2 149.3,122.2 149.7,122.3 150.1,122.3 150.5,122.4 150.9,122.5 151.3,122.5 151.7,122.6 152.1,122.6 152.5,122.7 152.9,122.8 153.3,122.8 153.7,122.9 154.1,122.9 154.5,123.0 154.9,123.1 155.3,123.1 155.7,123.2 156.1,123.2 156.5,123.3 156.9,123.4 157.3,123.4 157.7,123.5 158.1,123.5 158.5,123.6 158.9,123.7 159.3,123.7 159.7,123.8 160.1,123.8 160.5,123.9 160.9,124.0 161.3,124.0 161.7,124.1 162.1,124.1 162.5,124.2 162.9,124.3 163.3,124.3 163.7,124.4 164.1,124.4 164.5,124.5 164.9,124.6 165.3,124.6 165.7,124.7 166.1,124.7 166.5,124.8 166.9,124.9 167.3,124.9 167.7,125.0 168.1,125.0 168.5,125.1 168.9,125.2 169.3,125.2 169.7,125.3 170.1,125.3 170.5,125.4 170.9,125.5 171.3,125.5 171.7,125.6 172.1,125.6 172.5,125.7 172.9,125.8 173.3,125.8 173.7,125.9 174.1,125.9 174.5,126.0 174.9,126.1 175.3,126.1 175.7,126.2 176.1,126.2 176.5,126.3 176.9,126.4 177.3,126.4 177.7,126.5 178.1,126.5 178.5,126.6 178.9,126.7 179.3,126.7 179.7,126.8 180.1,126.8 180.5,126.9 180.9,127.0 181.3,127.0 181.7,127.1 182.1,127.1 182.5,127.2 182.9,127.3 183.3,127.3 183.7,127.4 184.1,127.4 184.5,127.5 184.9,127.6 185.3,127.6 185.7,127.7 186.1,127.7 186.5,127.8 186.9,127.9 187.3,127.9 187.7,128.0 188.1,128.0 188.5,128.1 188.9,128.2 189.3,128.2 189.7,128.3 190.1,128.3 190.5,128.4 190.9,128.5 191.3,128.5 191.7,128.6 192.1,128.6 192.5,128.7 192.9,128.8 193.3,128.8 193.7,128.9 194.1,128.9 194.5,129.0 194.9,129.1 195.3,129.1 195.7,129.2 196.1,129.2 196.5,129.3 196.9,129.4 197.3,129.4 197.7,129.5 198.1,129.5 198.5,129.6 198.9,129.7 199.3,129.7" fill="#fff"/>
<polyline points="122.5,118.2 122.9,118.3 123.3,118.3 123.7,118.4 124.1,118.4 124.5,118.5 124.9,118.6 125.3,118.6 125.7,118.7 126.1,118.7 126.5,118.8 126.9,118.9 127.3,118.9 127.7,119.0 128.1,119.0 128.5,119.1 128.9,119.2 129.3,119.2 129.7,119.3 130.1,119.3 130.5,119.4 130.9,119.4 131.3,119.4 131.7,119.3 132.1,119.2 132.5,118.8 132.9,118.3 133.3,117.4 133.7,116.0 134.1,114.1 134.5,111.4 134.9,108.0 135.3,103.7 135.7,98.5 136.1,92.5 136.5,86.0 136.9,79.4 137.3,72.9 137.7,67.2 138.1,62.7 138.5,59.8 138.9,58.9 139.3,59.9 139.7,62.9 140.1,67.4 140.5,73.2 140.9,79.7 141.3,86.4 141.7,93.0 142.1,99.0 142.5,104.2 142.9,108.5 143.3,112.0 143.7,114.6 144.1,116.6 144.5,118.0 144.9,118.9 145.3,119.6 145.7,120.1 146.1,120.5 146.5,120.8 146.9,121.1 147.3,121.4 147.7,121.7 148.1,121.9 148.5,122.0 148.9,122.2 149.3,122.2 149.7,122.3 150.1,122.3 150.5,122.4 150.9,122.5 151.3,122.5 151.7,122.6 152.1,122.6 152.5,122.7 152.9,122.8 153.3,122.8 153.7,122.9 154.1,122.9 154.5,123.0 154.9,123.1 155.3,123.1 155.7,123.2 156.1,123.2 156.5,123.3 156.9,123.4 157.3,123.4 157.7,123.5 158.1,123.5 158.5,123.6 158.9,123.7 159.3,123.7 159.7,123.8 160.1,123.8 160.5,123.9 160.9,124.0 161.3,124.0 161.7,124.1 162.1,124.1 162.5,124.2 162.9,124.3 163.3,124.3 163.7,124.4 164.1,124.4 164.5,124.5 164.9,124.6 165.3,124.6 165.7,124.7 166.1,124.7 166.5,124.8 166.9,124.9 167.3,124.9 167.7,125.0 168.1,125.0 168.5,125.1 168.9,125.2 169.3,125.2 169.7,125.3 170.1,125.3 170.5,125.4 170.9,125.5 171.3,125.5 171.7,125.6 172.1,125.6 172.5,125.7 172.9,125.8 173.3,125.8 173.7,125.9 174.1,125.9 174.5,126.0 174.9,126.1 175.3,126.1 175.7,126.2 176.1,126.2 176.5,126.3 176.9,126.4 177.3,126.4 177.7,126.5 178.1,126.5 178.5,126.6 178.9,126.7 179.3,126.7 179.7,126.8 180.1,126.8 180.5,126.9 180.9,127.0 181.3,127.0 181.7,127.1 182.1,127.1 182.5,127.2 182.9,127.3 183.3,127.3 183.7,127.4 184.1,127.4 184.5,127.5 184.9,127.6 185.3,127.6 185.7,127.7 186.1,127.7 186.5,127.8 186.9,127.9 187.3,127.9 187.7,128.0 188.1,128.0 188.5,128.1 188.9,128.2 189.3,128.2 189.7,128.3 190.1,128.3 190.5,128.4 190.9,128.5 191.3,128.5 191.7,128.6 192.1,128.6 192.5,128.7 192.9,128.8 193.3,128.8 193.7,128.9 194.1,128.9 194.5,129.0 194.9,129.1 195.3,129.1 195.7,129.2 196.1,129.2 196.5,129.3 196.9,129.4 197.3,129.4 197.7,129.5 198.1,129.5 198.5,129.6 198.9,129.7 199.3,129.7" fill="none" stroke="#000" stroke-width="1.4" stroke-linejoin="round" stroke-linecap="round"/>
<line x1="144.9" y1="122.0" x2="199.5" y2="130.2" stroke="#111" stroke-width="1.6"/>
<line x1="122.5" y1="118.5" x2="132.4" y2="120.0" stroke="#111" stroke-width="1.5"/>
<line x1="124.0" y1="118.9" x2="124.0" y2="121.3" stroke="#222" stroke-width="0.8"/>
<line x1="126.9" y1="119.4" x2="126.9" y2="120.9" stroke="#222" stroke-width="0.8"/>
<line x1="129.8" y1="119.8" x2="129.8" y2="121.3" stroke="#222" stroke-width="0.8"/>
<line x1="132.7" y1="120.2" x2="132.7" y2="121.7" stroke="#222" stroke-width="0.8"/>
<line x1="144.3" y1="122.0" x2="144.3" y2="123.5" stroke="#222" stroke-width="0.8"/>
<line x1="147.2" y1="122.4" x2="147.2" y2="123.9" stroke="#222" stroke-width="0.8"/>
<line x1="150.1" y1="122.8" x2="150.1" y2="124.3" stroke="#222" stroke-width="0.8"/>
<line x1="153.0" y1="123.3" x2="153.0" y2="125.7" stroke="#222" stroke-width="0.8"/>
<line x1="155.9" y1="123.7" x2="155.9" y2="125.2" stroke="#222" stroke-width="0.8"/>
<line x1="158.8" y1="124.1" x2="158.8" y2="125.6" stroke="#222" stroke-width="0.8"/>
<line x1="161.7" y1="124.6" x2="161.7" y2="126.1" stroke="#222" stroke-width="0.8"/>
<line x1="164.6" y1="125.0" x2="164.6" y2="126.5" stroke="#222" stroke-width="0.8"/>
<line x1="167.5" y1="125.5" x2="167.5" y2="127.9" stroke="#222" stroke-width="0.8"/>
<line x1="170.4" y1="125.9" x2="170.4" y2="127.4" stroke="#222" stroke-width="0.8"/>
<line x1="173.3" y1="126.3" x2="173.3" y2="127.8" stroke="#222" stroke-width="0.8"/>
<line x1="176.2" y1="126.8" x2="176.2" y2="128.3" stroke="#222" stroke-width="0.8"/>
<line x1="179.1" y1="127.2" x2="179.1" y2="128.7" stroke="#222" stroke-width="0.8"/>
<line x1="182.0" y1="127.6" x2="182.0" y2="130.0" stroke="#222" stroke-width="0.8"/>
<line x1="184.9" y1="128.1" x2="184.9" y2="129.6" stroke="#222" stroke-width="0.8"/>
<line x1="187.8" y1="128.5" x2="187.8" y2="130.0" stroke="#222" stroke-width="0.8"/>
<line x1="190.7" y1="128.9" x2="190.7" y2="130.4" stroke="#222" stroke-width="0.8"/>
<line x1="193.6" y1="129.4" x2="193.6" y2="130.9" stroke="#222" stroke-width="0.8"/>
<line x1="196.5" y1="129.8" x2="196.5" y2="132.2" stroke="#222" stroke-width="0.8"/>
<rect x="194.30" y="37.60" width="45.20" height="39.60" fill="#fff" stroke="#555" stroke-width="0.9"/>
<rect x="198.60" y="41.80" width="8.60" height="8.20" fill="#fff" stroke="#000" stroke-width="2.2"/>
<rect x="199.30" y="54.90" width="7.80" height="7.80" fill="#a3a3a3" stroke="#000" stroke-width="1.2"/>
<rect x="199.30" y="67.40" width="7.80" height="7.80" fill="#fff" stroke="#000" stroke-width="1.1"/>
<text x="212.2" y="50.5" font-size="12" font-weight="bold" text-anchor="start" fill="#000" stroke="#000" stroke-width="0.4" stroke-linejoin="round" textLength="20.4" lengthAdjust="spacingAndGlyphs">ΔIP</text>
<text x="212.2" y="63.2" font-size="12" font-weight="bold" text-anchor="start" fill="#000" stroke="#000" stroke-width="0.4" stroke-linejoin="round" textLength="18.4" lengthAdjust="spacingAndGlyphs">WT</text>
<text x="212.2" y="75.4" font-size="12" font-weight="bold" text-anchor="start" fill="#000" stroke="#000" stroke-width="0.4" stroke-linejoin="round" textLength="22.8" lengthAdjust="spacingAndGlyphs">ISO</text>
<defs>
<filter id="b1" x="-20%" y="-100%" width="140%" height="300%"><feGaussianBlur stdDeviation="0.9 0.7"/></filter>
<filter id="b2" x="-20%" y="-100%" width="140%" height="300%"><feGaussianBlur stdDeviation="1.4 1.1"/></filter>
<filter id="b3" x="-20%" y="-100%" width="140%" height="300%"><feGaussianBlur stdDeviation="0.6 0.5"/></filter>
<linearGradient id="gS" x1="0" x2="1"><stop offset="0" stop-color="#bdbdbd"/><stop offset="0.5" stop-color="#c9c9c9"/><stop offset="1" stop-color="#b9b9b9"/></linearGradient>
<linearGradient id="gFb" x1="0" x2="0" y1="0" y2="1"><stop offset="0" stop-color="#8a8a8a" stop-opacity="0"/><stop offset="1" stop-color="#8a8a8a" stop-opacity="0.75"/></linearGradient>
<linearGradient id="gF" x1="0" x2="1"><stop offset="0" stop-color="#b3b3b3"/><stop offset="0.5" stop-color="#bcbcbc"/><stop offset="1" stop-color="#a8a8a8"/></linearGradient>
</defs>
<rect x="299.50" y="36.00" width="102.50" height="20.00" fill="url(#gS)" stroke="none" stroke-width="1"/>
<rect x="299.50" y="35.60" width="12.30" height="20.40" fill="#141414" stroke="none" stroke-width="1"/>
<g filter="url(#b2)">
<rect x="306.00" y="38.00" width="5.00" height="5.00" fill="#3a3a3a" stroke="none" stroke-width="1"/>
<rect x="307.00" y="48.00" width="4.00" height="5.00" fill="#333" stroke="none" stroke-width="1"/>
</g>
<g filter="url(#b1)">
<rect x="316.30" y="45.20" width="16.20" height="2.70" fill="#1c1c1c" stroke="none" stroke-width="1"/>
<rect x="360.80" y="46.70" width="15.60" height="2.60" fill="#2c2c2c" stroke="none" stroke-width="1"/>
</g>
<rect x="299.50" y="57.20" width="102.50" height="31.80" fill="url(#gF)" stroke="none" stroke-width="1"/>
<rect x="299.50" y="57.20" width="12.30" height="31.80" fill="#b6b6b6" stroke="none" stroke-width="1"/>
<rect x="299.50" y="84.50" width="102.50" height="4.50" fill="url(#gFb)" stroke="none" stroke-width="1"/>
<g filter="url(#b1)">
<rect x="299.30" y="62.20" width="10.40" height="4.60" fill="#060606" stroke="none" stroke-width="1"/>
<rect x="299.30" y="81.60" width="10.40" height="5.00" fill="#060606" stroke="none" stroke-width="1"/>
<rect x="337.80" y="68.30" width="16.80" height="2.90" fill="#0e0e0e" stroke="none" stroke-width="1"/>
<rect x="383.80" y="70.00" width="16.80" height="3.40" fill="#080808" stroke="none" stroke-width="1"/>
</g>
<g filter="url(#b2)">
<rect x="338.00" y="59.40" width="15.00" height="1.80" fill="#8a8a8a" stroke="none" stroke-width="1"/>
<rect x="385.00" y="61.60" width="14.00" height="1.80" fill="#868686" stroke="none" stroke-width="1"/>
<rect x="316.00" y="68.20" width="11.00" height="1.60" fill="#979797" stroke="none" stroke-width="1"/>
<rect x="361.00" y="70.40" width="14.00" height="1.60" fill="#8c8c8c" stroke="none" stroke-width="1"/>
<rect x="313.50" y="76.80" width="19.50" height="5.20" fill="#646464" stroke="none" stroke-width="1"/>
<rect x="336.00" y="76.80" width="18.80" height="5.20" fill="#646464" stroke="none" stroke-width="1"/>
<rect x="359.50" y="78.60" width="20.00" height="5.40" fill="#707070" stroke="none" stroke-width="1"/>
<rect x="382.00" y="78.60" width="19.00" height="5.40" fill="#707070" stroke="none" stroke-width="1"/>
</g>
<line x1="357" y1="36" x2="357" y2="89" stroke="#f4f4f4" stroke-width="0.9"/>
<rect x="298.60" y="89.00" width="12.40" height="20.50" fill="#d2d2d2" stroke="none" stroke-width="1"/>
<g filter="url(#b1)">
<rect x="297.80" y="102.80" width="11.60" height="5.00" fill="#060606" stroke="none" stroke-width="1"/>
<rect x="313.00" y="98.40" width="20.50" height="4.60" fill="#0a0a0a" stroke="none" stroke-width="1"/>
<rect x="333.50" y="99.00" width="21.50" height="4.80" fill="#0a0a0a" stroke="none" stroke-width="1"/>
<rect x="356.60" y="100.80" width="22.50" height="5.20" fill="#050505" stroke="none" stroke-width="1"/>
<rect x="379.00" y="101.00" width="22.30" height="5.60" fill="#050505" stroke="none" stroke-width="1"/>
</g>
<g filter="url(#b3)">
<rect x="314.00" y="103.60" width="17.00" height="2.20" fill="#b8b8b8" stroke="none" stroke-width="1"/>
<rect x="336.00" y="104.40" width="14.00" height="1.20" fill="#d0d0d0" stroke="none" stroke-width="1"/>
<rect x="382.00" y="111.20" width="14.00" height="1.40" fill="#a5a5a5" stroke="none" stroke-width="1"/>
<rect x="364.00" y="111.40" width="12.00" height="1.00" fill="#d5d5d5" stroke="none" stroke-width="1"/>
<rect x="300.00" y="91.50" width="9.00" height="1.00" fill="#b5b5b5" stroke="none" stroke-width="1"/>
<rect x="300.00" y="94.50" width="9.00" height="1.00" fill="#b5b5b5" stroke="none" stroke-width="1"/>
<rect x="300.00" y="97.50" width="9.00" height="1.00" fill="#bdbdbd" stroke="none" stroke-width="1"/>
</g>
<text x="294.3" y="54.0" font-size="8.8" font-weight="bold" text-anchor="end" fill="#000" stroke="#000" stroke-width="0.4" stroke-linejoin="round">120</text>
<text x="294.3" y="67.5" font-size="8.8" font-weight="bold" text-anchor="end" fill="#000" stroke="#000" stroke-width="0.4" stroke-linejoin="round">50</text>
<text x="294.3" y="86.7" font-size="8.8" font-weight="bold" text-anchor="end" fill="#000" stroke="#000" stroke-width="0.4" stroke-linejoin="round">40</text>
<text x="294.3" y="107.4" font-size="8.8" font-weight="bold" text-anchor="end" fill="#000" stroke="#000" stroke-width="0.4" stroke-linejoin="round">40</text>
<text x="403.7" y="46.9" font-size="8.8" font-weight="bold" text-anchor="start" fill="#000" stroke="#000" stroke-width="0.4" stroke-linejoin="round">SHIP</text>
<text x="403.7" y="73.3" font-size="8.8" font-weight="bold" text-anchor="start" fill="#000" stroke="#000" stroke-width="0.4" stroke-linejoin="round">FoxP3</text>
<text x="404" y="106.5" font-size="8.8" font-weight="bold" text-anchor="start" fill="#000" stroke="#000" stroke-width="0.4" stroke-linejoin="round">Actin</text>
<text x="305" y="34.3" font-size="8.6" font-weight="bold" text-anchor="start" fill="#000" stroke="#000" stroke-width="0.4" stroke-linejoin="round" transform="rotate(-47 305 34.3)">MW</text>
<text x="324" y="33.5" font-size="8.8" font-weight="bold" text-anchor="start" fill="#000" stroke="#000" stroke-width="0.4" stroke-linejoin="round" transform="rotate(-45 324 33.5)">WT CD25-</text>
<text x="347" y="33.5" font-size="8.8" font-weight="bold" text-anchor="start" fill="#000" stroke="#000" stroke-width="0.4" stroke-linejoin="round" transform="rotate(-45 347 33.5)">-/- CD25-</text>
<text x="370" y="33.5" font-size="8.8" font-weight="bold" text-anchor="start" fill="#000" stroke="#000" stroke-width="0.4" stroke-linejoin="round" transform="rotate(-45 370 33.5)">WT CD25-</text>
<text x="392.5" y="32.5" font-size="8.8" font-weight="bold" text-anchor="start" fill="#000" stroke="#000" stroke-width="0.4" stroke-linejoin="round" transform="rotate(-45 392.5 32.5)">ΔIP/ΔIP</text>
<text x="400.7" y="36.3" font-size="8.8" font-weight="bold" text-anchor="start" fill="#000" stroke="#000" stroke-width="0.4" stroke-linejoin="round" transform="rotate(-45 400.7 36.3)">CD25-</text>
<rect x="311.30" y="118.60" width="87.20" height="27.80" fill="#fff" stroke="#8c8c8c" stroke-width="0.7"/>
<line x1="311.3" y1="139.45000000000002" x2="398.5" y2="139.45000000000002" stroke="#b5b5b5" stroke-width="0.5"/>
<line x1="311.3" y1="132.5" x2="398.5" y2="132.5" stroke="#b5b5b5" stroke-width="0.5"/>
<line x1="311.3" y1="125.55000000000001" x2="398.5" y2="125.55000000000001" stroke="#b5b5b5" stroke-width="0.5"/>
<rect x="315.30" y="133.80" width="15.70" height="12.60" fill="#6e6e6e" stroke="none" stroke-width="1"/>
<rect x="337.80" y="123.40" width="15.50" height="23.00" fill="#6e6e6e" stroke="none" stroke-width="1"/>
<rect x="360.00" y="137.00" width="15.50" height="9.40" fill="#6e6e6e" stroke="none" stroke-width="1"/>
<rect x="382.50" y="121.00" width="15.30" height="25.40" fill="#6e6e6e" stroke="none" stroke-width="1"/>
<text x="309.9" y="148.3" font-size="5.4" font-weight="normal" text-anchor="end" fill="#222" stroke="#222" stroke-width="0.2" stroke-linejoin="round" textLength="2.6" lengthAdjust="spacingAndGlyphs">0</text>
<text x="309.9" y="141.35000000000002" font-size="5.4" font-weight="normal" text-anchor="end" fill="#222" stroke="#222" stroke-width="0.2" stroke-linejoin="round" textLength="2.6" lengthAdjust="spacingAndGlyphs">5</text>
<text x="309.9" y="134.4" font-size="5.4" font-weight="normal" text-anchor="end" fill="#222" stroke="#222" stroke-width="0.2" stroke-linejoin="round" textLength="5.0" lengthAdjust="spacingAndGlyphs">10</text>
<text x="309.9" y="127.45000000000002" font-size="5.4" font-weight="normal" text-anchor="end" fill="#222" stroke="#222" stroke-width="0.2" stroke-linejoin="round" textLength="5.0" lengthAdjust="spacingAndGlyphs">15</text>
<text x="309.9" y="120.50000000000001" font-size="5.4" font-weight="normal" text-anchor="end" fill="#222" stroke="#222" stroke-width="0.2" stroke-linejoin="round" textLength="5.0" lengthAdjust="spacingAndGlyphs">20</text>
<text x="299.7" y="132.8" font-size="12.8" font-weight="bold" text-anchor="middle" fill="#000" stroke="#000" stroke-width="0.5" stroke-linejoin="round" transform="rotate(-90 299.7 132.8)">AFU</text>
<line x1="55.9" y1="287.69425" x2="55.9" y2="284.15575" stroke="#000" stroke-width="1.5"/>
<line x1="52.3" y1="284.15575" x2="59.5" y2="284.15575" stroke="#000" stroke-width="1.5"/>
<path d="M49.95,311.20 L49.95,287.69 L61.85,287.69 L61.85,311.20" fill="#999999" stroke="#000" stroke-width="2.0" stroke-linejoin="miter"/>
<line x1="73.9" y1="211.36374999999998" x2="73.9" y2="204.79225" stroke="#000" stroke-width="1.5"/>
<line x1="70.30000000000001" y1="204.79225" x2="77.5" y2="204.79225" stroke="#000" stroke-width="1.5"/>
<path d="M67.95,311.20 L67.95,211.36 L79.85,211.36 L79.85,311.20" fill="#999999" stroke="#000" stroke-width="2.0" stroke-linejoin="miter"/>
<line x1="91.7" y1="295.27675" x2="91.7" y2="292.24375" stroke="#000" stroke-width="1.5"/>
<line x1="88.10000000000001" y1="292.24375" x2="95.3" y2="292.24375" stroke="#000" stroke-width="1.5"/>
<path d="M85.75,311.20 L85.75,295.28 L97.65,295.28 L97.65,311.20" fill="#999999" stroke="#000" stroke-width="2.0" stroke-linejoin="miter"/>
<line x1="109.9" y1="267.97974999999997" x2="109.9" y2="262.92475" stroke="#000" stroke-width="1.5"/>
<line x1="106.30000000000001" y1="262.92475" x2="113.5" y2="262.92475" stroke="#000" stroke-width="1.5"/>
<path d="M103.95,311.20 L103.95,267.98 L115.85,267.98 L115.85,311.20" fill="#999999" stroke="#000" stroke-width="2.0" stroke-linejoin="miter"/>
<line x1="128.1" y1="290.72724999999997" x2="128.1" y2="287.947" stroke="#000" stroke-width="1.5"/>
<line x1="124.5" y1="287.947" x2="131.7" y2="287.947" stroke="#000" stroke-width="1.5"/>
<path d="M122.15,311.20 L122.15,290.73 L134.05,290.73 L134.05,311.20" fill="#999999" stroke="#000" stroke-width="2.0" stroke-linejoin="miter"/>
<line x1="146.4" y1="270.00175" x2="146.4" y2="266.46325" stroke="#000" stroke-width="1.5"/>
<line x1="142.8" y1="266.46325" x2="150.0" y2="266.46325" stroke="#000" stroke-width="1.5"/>
<path d="M140.45,311.20 L140.45,270.00 L152.35,270.00 L152.35,311.20" fill="#999999" stroke="#000" stroke-width="2.0" stroke-linejoin="miter"/>
<line x1="164.6" y1="298.81525" x2="164.6" y2="295.78225" stroke="#000" stroke-width="1.5"/>
<line x1="161.0" y1="295.78225" x2="168.2" y2="295.78225" stroke="#000" stroke-width="1.5"/>
<path d="M158.65,311.20 L158.65,298.82 L170.55,298.82 L170.55,311.20" fill="#999999" stroke="#000" stroke-width="2.0" stroke-linejoin="miter"/>
<line x1="182.5" y1="278.848" x2="182.5" y2="273.793" stroke="#000" stroke-width="1.5"/>
<line x1="178.9" y1="273.793" x2="186.1" y2="273.793" stroke="#000" stroke-width="1.5"/>
<path d="M176.55,311.20 L176.55,278.85 L188.45,278.85 L188.45,311.20" fill="#999999" stroke="#000" stroke-width="2.0" stroke-linejoin="miter"/>
<line x1="200.3" y1="300.83725" x2="200.3" y2="298.30975" stroke="#000" stroke-width="1.5"/>
<line x1="196.70000000000002" y1="298.30975" x2="203.9" y2="298.30975" stroke="#000" stroke-width="1.5"/>
<path d="M194.35,311.20 L194.35,300.84 L206.25,300.84 L206.25,311.20" fill="#999999" stroke="#000" stroke-width="2.0" stroke-linejoin="miter"/>
<line x1="218.4" y1="293.25475" x2="218.4" y2="290.22175" stroke="#000" stroke-width="1.5"/>
<line x1="214.8" y1="290.22175" x2="222.0" y2="290.22175" stroke="#000" stroke-width="1.5"/>
<path d="M212.45,311.20 L212.45,293.25 L224.35,293.25 L224.35,311.20" fill="#999999" stroke="#000" stroke-width="2.0" stroke-linejoin="miter"/>
<line x1="236.6" y1="298.30975" x2="236.6" y2="295.27675" stroke="#000" stroke-width="1.5"/>
<line x1="233.0" y1="295.27675" x2="240.2" y2="295.27675" stroke="#000" stroke-width="1.5"/>
<path d="M230.65,311.20 L230.65,298.31 L242.55,298.31 L242.55,311.20" fill="#999999" stroke="#000" stroke-width="2.0" stroke-linejoin="miter"/>
<line x1="254.8" y1="288.19975" x2="254.8" y2="284.4085" stroke="#000" stroke-width="1.5"/>
<line x1="251.20000000000002" y1="284.4085" x2="258.40000000000003" y2="284.4085" stroke="#000" stroke-width="1.5"/>
<path d="M248.85,311.20 L248.85,288.20 L260.75,288.20 L260.75,311.20" fill="#999999" stroke="#000" stroke-width="2.0" stroke-linejoin="miter"/>
<line x1="46.2" y1="184.4" x2="46.2" y2="312.7" stroke="#000" stroke-width="2.8"/>
<line x1="44.800000000000004" y1="311.2" x2="264.8" y2="311.2" stroke="#000" stroke-width="3"/>
<line x1="41.4" y1="311.2" x2="46.2" y2="311.2" stroke="#000" stroke-width="2"/>
<text x="38.6" y="314.5" font-size="9.8" font-weight="bold" text-anchor="end" fill="#000" stroke="#000" stroke-width="0.4" stroke-linejoin="round" textLength="5.5" lengthAdjust="spacingAndGlyphs">0</text>
<line x1="41.4" y1="285.925" x2="46.2" y2="285.925" stroke="#000" stroke-width="2"/>
<text x="38.6" y="289.225" font-size="9.8" font-weight="bold" text-anchor="end" fill="#000" stroke="#000" stroke-width="0.4" stroke-linejoin="round" textLength="5.5" lengthAdjust="spacingAndGlyphs">5</text>
<line x1="41.4" y1="260.65" x2="46.2" y2="260.65" stroke="#000" stroke-width="2"/>
<text x="38.6" y="263.95" font-size="9.8" font-weight="bold" text-anchor="end" fill="#000" stroke="#000" stroke-width="0.4" stroke-linejoin="round" textLength="11.0" lengthAdjust="spacingAndGlyphs">10</text>
<line x1="41.4" y1="235.375" x2="46.2" y2="235.375" stroke="#000" stroke-width="2"/>
<text x="38.6" y="238.675" font-size="9.8" font-weight="bold" text-anchor="end" fill="#000" stroke="#000" stroke-width="0.4" stroke-linejoin="round" textLength="11.0" lengthAdjust="spacingAndGlyphs">15</text>
<line x1="41.4" y1="210.1" x2="46.2" y2="210.1" stroke="#000" stroke-width="2"/>
<text x="38.6" y="213.4" font-size="9.8" font-weight="bold" text-anchor="end" fill="#000" stroke="#000" stroke-width="0.4" stroke-linejoin="round" textLength="11.0" lengthAdjust="spacingAndGlyphs">20</text>
<line x1="41.4" y1="184.825" x2="46.2" y2="184.825" stroke="#000" stroke-width="2"/>
<text x="38.6" y="188.125" font-size="9.8" font-weight="bold" text-anchor="end" fill="#000" stroke="#000" stroke-width="0.4" stroke-linejoin="round" textLength="11.0" lengthAdjust="spacingAndGlyphs">25</text>
<text x="15.8" y="246" font-size="11.6" font-weight="bold" text-anchor="middle" fill="#000" stroke="#000" stroke-width="0.5" stroke-linejoin="round" textLength="75" lengthAdjust="spacingAndGlyphs" transform="rotate(-90 15.8 246)">% Frequency</text>
<line x1="155.6" y1="186" x2="155.6" y2="457" stroke="#222" stroke-width="1.0"/>
<line x1="54.7" y1="199" x2="76.7" y2="199" stroke="#3a3a3a" stroke-width="1.2"/>
<text x="66.0" y="198.60000000000002" font-size="9" font-weight="bold" text-anchor="middle" fill="#000" stroke="#000" stroke-width="0.3" stroke-linejoin="round" letter-spacing="0.5">***</text>
<line x1="88.9" y1="257" x2="111.2" y2="257" stroke="#3a3a3a" stroke-width="1.2"/>
<text x="100.35000000000001" y="256.6" font-size="9" font-weight="bold" text-anchor="middle" fill="#000" stroke="#000" stroke-width="0.3" stroke-linejoin="round" letter-spacing="0.5">***</text>
<line x1="124" y1="261" x2="146.2" y2="261" stroke="#3a3a3a" stroke-width="1.2"/>
<text x="135.4" y="259.90000000000003" font-size="9" font-weight="bold" text-anchor="middle" fill="#000" stroke="#000" stroke-width="0.3" stroke-linejoin="round" letter-spacing="0.5">***</text>
<line x1="162.3" y1="268" x2="183" y2="268" stroke="#3a3a3a" stroke-width="1.2"/>
<text x="172.95000000000002" y="267.2" font-size="9" font-weight="bold" text-anchor="middle" fill="#000" stroke="#000" stroke-width="0.3" stroke-linejoin="round" letter-spacing="0.5">**</text>
<line x1="199.2" y1="284" x2="219.7" y2="284" stroke="#3a3a3a" stroke-width="1.2"/>
<text x="209.75" y="283.6" font-size="9" font-weight="bold" text-anchor="middle" fill="#000" stroke="#000" stroke-width="0.3" stroke-linejoin="round" letter-spacing="0.5">***</text>
<line x1="236.4" y1="279" x2="256.5" y2="279" stroke="#3a3a3a" stroke-width="1.2"/>
<text x="246.75" y="277.90000000000003" font-size="9" font-weight="bold" text-anchor="middle" fill="#000" stroke="#000" stroke-width="0.3" stroke-linejoin="round" letter-spacing="0.5">**</text>
<line x1="55.9" y1="425.03999999999996" x2="55.9" y2="421.751" stroke="#000" stroke-width="1.5"/>
<line x1="52.3" y1="421.751" x2="59.5" y2="421.751" stroke="#000" stroke-width="1.5"/>
<path d="M49.95,455.40 L49.95,425.04 L61.85,425.04 L61.85,455.40" fill="#999999" stroke="#000" stroke-width="2.0" stroke-linejoin="miter"/>
<line x1="73.9" y1="355.212" x2="73.9" y2="336.48999999999995" stroke="#000" stroke-width="1.5"/>
<line x1="70.30000000000001" y1="336.48999999999995" x2="77.5" y2="336.48999999999995" stroke="#000" stroke-width="1.5"/>
<path d="M67.95,455.40 L67.95,355.21 L79.85,355.21 L79.85,455.40" fill="#999999" stroke="#000" stroke-width="2.0" stroke-linejoin="miter"/>
<line x1="91.7" y1="426.811" x2="91.7" y2="421.751" stroke="#000" stroke-width="1.5"/>
<line x1="88.10000000000001" y1="421.751" x2="95.3" y2="421.751" stroke="#000" stroke-width="1.5"/>
<path d="M85.75,455.40 L85.75,426.81 L97.65,426.81 L97.65,455.40" fill="#999999" stroke="#000" stroke-width="2.0" stroke-linejoin="miter"/>
<line x1="109.9" y1="353.69399999999996" x2="109.9" y2="333.454" stroke="#000" stroke-width="1.5"/>
<line x1="106.30000000000001" y1="333.454" x2="113.5" y2="333.454" stroke="#000" stroke-width="1.5"/>
<path d="M103.95,455.40 L103.95,353.69 L115.85,353.69 L115.85,455.40" fill="#999999" stroke="#000" stroke-width="2.0" stroke-linejoin="miter"/>
<line x1="128.1" y1="415.426" x2="128.1" y2="412.643" stroke="#000" stroke-width="1.5"/>
<line x1="124.5" y1="412.643" x2="131.7" y2="412.643" stroke="#000" stroke-width="1.5"/>
<path d="M122.15,455.40 L122.15,415.43 L134.05,415.43 L134.05,455.40" fill="#999999" stroke="#000" stroke-width="2.0" stroke-linejoin="miter"/>
<line x1="146.4" y1="354.453" x2="146.4" y2="337.50199999999995" stroke="#000" stroke-width="1.5"/>
<line x1="142.8" y1="337.50199999999995" x2="150.0" y2="337.50199999999995" stroke="#000" stroke-width="1.5"/>
<path d="M140.45,455.40 L140.45,354.45 L152.35,354.45 L152.35,455.40" fill="#999999" stroke="#000" stroke-width="2.0" stroke-linejoin="miter"/>
<line x1="164.6" y1="448.316" x2="164.6" y2="447.051" stroke="#000" stroke-width="1.5"/>
<line x1="161.0" y1="447.051" x2="168.2" y2="447.051" stroke="#000" stroke-width="1.5"/>
<path d="M158.65,455.40 L158.65,448.32 L170.55,448.32 L170.55,455.40" fill="#999999" stroke="#000" stroke-width="2.0" stroke-linejoin="miter"/>
<line x1="182.5" y1="404.294" x2="182.5" y2="397.21" stroke="#000" stroke-width="1.5"/>
<line x1="178.9" y1="397.21" x2="186.1" y2="397.21" stroke="#000" stroke-width="1.5"/>
<path d="M176.55,455.40 L176.55,404.29 L188.45,404.29 L188.45,455.40" fill="#999999" stroke="#000" stroke-width="2.0" stroke-linejoin="miter"/>
<line x1="200.3" y1="447.81" x2="200.3" y2="446.798" stroke="#000" stroke-width="1.5"/>
<line x1="196.70000000000002" y1="446.798" x2="203.9" y2="446.798" stroke="#000" stroke-width="1.5"/>
<path d="M194.35,455.40 L194.35,447.81 L206.25,447.81 L206.25,455.40" fill="#999999" stroke="#000" stroke-width="2.0" stroke-linejoin="miter"/>
<line x1="218.4" y1="434.40099999999995" x2="218.4" y2="429.847" stroke="#000" stroke-width="1.5"/>
<line x1="214.8" y1="429.847" x2="222.0" y2="429.847" stroke="#000" stroke-width="1.5"/>
<path d="M212.45,455.40 L212.45,434.40 L224.35,434.40 L224.35,455.40" fill="#999999" stroke="#000" stroke-width="2.0" stroke-linejoin="miter"/>
<line x1="236.6" y1="449.075" x2="236.6" y2="447.304" stroke="#000" stroke-width="1.5"/>
<line x1="233.0" y1="447.304" x2="240.2" y2="447.304" stroke="#000" stroke-width="1.5"/>
<path d="M230.65,455.40 L230.65,449.07 L242.55,449.07 L242.55,455.40" fill="#999999" stroke="#000" stroke-width="2.0" stroke-linejoin="miter"/>
<line x1="254.8" y1="444.268" x2="254.8" y2="442.24399999999997" stroke="#000" stroke-width="1.5"/>
<line x1="251.20000000000002" y1="442.24399999999997" x2="258.40000000000003" y2="442.24399999999997" stroke="#000" stroke-width="1.5"/>
<path d="M248.85,455.40 L248.85,444.27 L260.75,444.27 L260.75,455.40" fill="#999999" stroke="#000" stroke-width="2.0" stroke-linejoin="miter"/>
<line x1="46.2" y1="327.7" x2="46.2" y2="456.9" stroke="#000" stroke-width="2.8"/>
<line x1="44.800000000000004" y1="455.4" x2="264.8" y2="455.4" stroke="#000" stroke-width="3"/>
<line x1="41.4" y1="455.4" x2="46.2" y2="455.4" stroke="#000" stroke-width="2"/>
<text x="37.6" y="458.79999999999995" font-size="9.8" font-weight="bold" text-anchor="end" fill="#000" stroke="#000" stroke-width="0.4" stroke-linejoin="round" textLength="5.5" lengthAdjust="spacingAndGlyphs">0</text>
<line x1="41.4" y1="430.09999999999997" x2="46.2" y2="430.09999999999997" stroke="#000" stroke-width="2"/>
<text x="37.6" y="433.49999999999994" font-size="9.8" font-weight="bold" text-anchor="end" fill="#000" stroke="#000" stroke-width="0.4" stroke-linejoin="round" textLength="14.4" lengthAdjust="spacingAndGlyphs">0.5</text>
<line x1="41.4" y1="404.79999999999995" x2="46.2" y2="404.79999999999995" stroke="#000" stroke-width="2"/>
<text x="37.6" y="408.19999999999993" font-size="9.8" font-weight="bold" text-anchor="end" fill="#000" stroke="#000" stroke-width="0.4" stroke-linejoin="round" textLength="14.4" lengthAdjust="spacingAndGlyphs">1.0</text>
<line x1="41.4" y1="379.5" x2="46.2" y2="379.5" stroke="#000" stroke-width="2"/>
<text x="37.6" y="382.9" font-size="9.8" font-weight="bold" text-anchor="end" fill="#000" stroke="#000" stroke-width="0.4" stroke-linejoin="round" textLength="14.4" lengthAdjust="spacingAndGlyphs">1.5</text>
<line x1="41.4" y1="354.2" x2="46.2" y2="354.2" stroke="#000" stroke-width="2"/>
<text x="37.6" y="357.59999999999997" font-size="9.8" font-weight="bold" text-anchor="end" fill="#000" stroke="#000" stroke-width="0.4" stroke-linejoin="round" textLength="14.4" lengthAdjust="spacingAndGlyphs">2.0</text>
<line x1="41.4" y1="328.9" x2="46.2" y2="328.9" stroke="#000" stroke-width="2"/>
<text x="37.6" y="332.29999999999995" font-size="9.8" font-weight="bold" text-anchor="end" fill="#000" stroke="#000" stroke-width="0.4" stroke-linejoin="round" textLength="14.4" lengthAdjust="spacingAndGlyphs">2.5</text>
<line x1="55.9" y1="455.4" x2="55.9" y2="459.59999999999997" stroke="#000" stroke-width="1.8"/>
<line x1="73.9" y1="455.4" x2="73.9" y2="459.59999999999997" stroke="#000" stroke-width="1.8"/>
<line x1="91.7" y1="455.4" x2="91.7" y2="459.59999999999997" stroke="#000" stroke-width="1.8"/>
<line x1="109.9" y1="455.4" x2="109.9" y2="459.59999999999997" stroke="#000" stroke-width="1.8"/>
<line x1="128.1" y1="455.4" x2="128.1" y2="459.59999999999997" stroke="#000" stroke-width="1.8"/>
<line x1="146.4" y1="455.4" x2="146.4" y2="459.59999999999997" stroke="#000" stroke-width="1.8"/>
<line x1="164.6" y1="455.4" x2="164.6" y2="459.59999999999997" stroke="#000" stroke-width="1.8"/>
<line x1="182.5" y1="455.4" x2="182.5" y2="459.59999999999997" stroke="#000" stroke-width="1.8"/>
<line x1="200.3" y1="455.4" x2="200.3" y2="459.59999999999997" stroke="#000" stroke-width="1.8"/>
<line x1="218.4" y1="455.4" x2="218.4" y2="459.59999999999997" stroke="#000" stroke-width="1.8"/>
<line x1="236.6" y1="455.4" x2="236.6" y2="459.59999999999997" stroke="#000" stroke-width="1.8"/>
<line x1="254.8" y1="455.4" x2="254.8" y2="459.59999999999997" stroke="#000" stroke-width="1.8"/>
<text x="15.2" y="389.6" font-size="12" font-weight="bold" text-anchor="middle" stroke="#000" stroke-width="0.5" transform="rotate(-90 15.2 389.6)">Abs # (x10<tspan font-size="10.5" dy="-4.6">6</tspan><tspan dy="4.6">)</tspan></text>
<line x1="54.7" y1="330" x2="74.9" y2="330" stroke="#3a3a3a" stroke-width="1.2"/>
<text x="65.10000000000001" y="329.3" font-size="9" font-weight="bold" text-anchor="middle" fill="#000" stroke="#000" stroke-width="0.3" stroke-linejoin="round" letter-spacing="0.5">**</text>
<line x1="92.9" y1="326" x2="113" y2="326" stroke="#3a3a3a" stroke-width="1.2"/>
<text x="103.25" y="325.8" font-size="9" font-weight="bold" text-anchor="middle" fill="#000" stroke="#000" stroke-width="0.3" stroke-linejoin="round" letter-spacing="0.5">**</text>
<line x1="126" y1="332" x2="146" y2="332" stroke="#3a3a3a" stroke-width="1.2"/>
<text x="136.3" y="331.3" font-size="9" font-weight="bold" text-anchor="middle" fill="#000" stroke="#000" stroke-width="0.3" stroke-linejoin="round" letter-spacing="0.5">***</text>
<line x1="162.3" y1="392" x2="183" y2="392" stroke="#3a3a3a" stroke-width="1.2"/>
<text x="172.95000000000002" y="391.0" font-size="9" font-weight="bold" text-anchor="middle" fill="#000" stroke="#000" stroke-width="0.3" stroke-linejoin="round" letter-spacing="0.5">***</text>
<line x1="200" y1="424" x2="220.2" y2="424" stroke="#3a3a3a" stroke-width="1.2"/>
<text x="210.4" y="422.8" font-size="9" font-weight="bold" text-anchor="middle" fill="#000" stroke="#000" stroke-width="0.3" stroke-linejoin="round" letter-spacing="0.5">**</text>
<line x1="236.4" y1="435" x2="256.5" y2="435" stroke="#3a3a3a" stroke-width="1.2"/>
<text x="246.75" y="434.1" font-size="9" font-weight="bold" text-anchor="middle" fill="#000" stroke="#000" stroke-width="0.3" stroke-linejoin="round" letter-spacing="0.5">*</text>
<text x="62.8" y="465.5" font-size="8.2" font-weight="bold" text-anchor="end" fill="#000" stroke="#000" stroke-width="0.4" stroke-linejoin="round" transform="rotate(-45 62.8 465.5)">WT</text>
<text x="80.80000000000001" y="465.5" font-size="8.2" font-weight="bold" text-anchor="end" fill="#111" stroke="#111" stroke-width="0.25" stroke-linejoin="round" transform="rotate(-45 80.80000000000001 465.5)">ΔIP/ΔIP</text>
<text x="98.60000000000001" y="465.5" font-size="8.2" font-weight="bold" text-anchor="end" fill="#000" stroke="#000" stroke-width="0.4" stroke-linejoin="round" transform="rotate(-45 98.60000000000001 465.5)">WT</text>
<text x="114.5" y="466.5" font-size="10" font-weight="normal" text-anchor="end" fill="#444" stroke="#444" stroke-width="0.15" stroke-linejoin="round" transform="rotate(-45 114.5 466.5)">-/-</text>
<text x="135.0" y="465.5" font-size="8.2" font-weight="bold" text-anchor="end" fill="#000" stroke="#000" stroke-width="0.4" stroke-linejoin="round" transform="rotate(-45 135.0 465.5)">MxCre-</text>
<text x="153.3" y="465.5" font-size="8.2" font-weight="bold" text-anchor="end" fill="#000" stroke="#000" stroke-width="0.4" stroke-linejoin="round" transform="rotate(-45 153.3 465.5)">MxCre+</text>
<text x="171.5" y="465.5" font-size="8.2" font-weight="bold" text-anchor="end" fill="#000" stroke="#000" stroke-width="0.4" stroke-linejoin="round" transform="rotate(-45 171.5 465.5)">WT</text>
<text x="189.4" y="465.5" font-size="8.2" font-weight="bold" text-anchor="end" fill="#111" stroke="#111" stroke-width="0.25" stroke-linejoin="round" transform="rotate(-45 189.4 465.5)">ΔIP/ΔIP</text>
<text x="207.20000000000002" y="465.5" font-size="8.2" font-weight="bold" text-anchor="end" fill="#000" stroke="#000" stroke-width="0.4" stroke-linejoin="round" transform="rotate(-45 207.20000000000002 465.5)">WT</text>
<text x="223.0" y="466.5" font-size="10" font-weight="normal" text-anchor="end" fill="#444" stroke="#444" stroke-width="0.15" stroke-linejoin="round" transform="rotate(-45 223.0 466.5)">-/-</text>
<text x="243.5" y="465.5" font-size="8.2" font-weight="bold" text-anchor="end" fill="#000" stroke="#000" stroke-width="0.4" stroke-linejoin="round" transform="rotate(-45 243.5 465.5)">MxCre-</text>
<text x="261.7" y="465.5" font-size="8.2" font-weight="bold" text-anchor="end" fill="#000" stroke="#000" stroke-width="0.4" stroke-linejoin="round" transform="rotate(-45 261.7 465.5)">MxCre+</text>
<line x1="53.8" y1="488.7" x2="153.8" y2="488.7" stroke="#333" stroke-width="1.0"/>
<line x1="158" y1="488.7" x2="258.5" y2="488.7" stroke="#333" stroke-width="1.0"/>
<text x="103.3" y="500.6" font-size="13" font-weight="bold" text-anchor="middle" fill="#000" stroke="#000" stroke-width="0.4" stroke-linejoin="round">Spleen</text>
<text x="208.3" y="500.6" font-size="13" font-weight="bold" text-anchor="middle" fill="#000" stroke="#000" stroke-width="0.4" stroke-linejoin="round">LN</text>
<path d="M321.85,304.20 L321.85,185.40 L337.55,185.40 L337.55,304.20" fill="#999999" stroke="#000" stroke-width="2.3" stroke-linejoin="miter"/>
<line x1="354.48" y1="283.1724" x2="354.48" y2="274.8564" stroke="#000" stroke-width="1.8"/>
<line x1="349.88" y1="274.8564" x2="359.08000000000004" y2="274.8564" stroke="#000" stroke-width="1.8"/>
<path d="M346.63,304.20 L346.63,283.17 L362.33,283.17 L362.33,304.20" fill="#999999" stroke="#000" stroke-width="2.3" stroke-linejoin="miter"/>
<line x1="379.26" y1="298.26" x2="379.26" y2="296.7156" stroke="#000" stroke-width="1.8"/>
<line x1="374.65999999999997" y1="296.7156" x2="383.86" y2="296.7156" stroke="#000" stroke-width="1.8"/>
<path d="M371.41,304.20 L371.41,298.26 L387.11,298.26 L387.11,304.20" fill="#999999" stroke="#000" stroke-width="2.3" stroke-linejoin="miter"/>
<line x1="404.03999999999996" y1="301.4676" x2="404.03999999999996" y2="298.73519999999996" stroke="#000" stroke-width="1.8"/>
<line x1="399.43999999999994" y1="298.73519999999996" x2="408.64" y2="298.73519999999996" stroke="#000" stroke-width="1.8"/>
<path d="M396.19,304.20 L396.19,301.47 L411.89,301.47 L411.89,304.20" fill="#999999" stroke="#000" stroke-width="2.3" stroke-linejoin="miter"/>
<line x1="428.82" y1="276.9948" x2="428.82" y2="270.4608" stroke="#000" stroke-width="1.8"/>
<line x1="424.21999999999997" y1="270.4608" x2="433.42" y2="270.4608" stroke="#000" stroke-width="1.8"/>
<path d="M420.97,304.20 L420.97,276.99 L436.67,276.99 L436.67,304.20" fill="#999999" stroke="#000" stroke-width="2.3" stroke-linejoin="miter"/>
<line x1="453.6" y1="279.252" x2="453.6" y2="276.51959999999997" stroke="#000" stroke-width="1.8"/>
<line x1="449.0" y1="276.51959999999997" x2="458.20000000000005" y2="276.51959999999997" stroke="#000" stroke-width="1.8"/>
<path d="M445.75,304.20 L445.75,279.25 L461.45,279.25 L461.45,304.20" fill="#999999" stroke="#000" stroke-width="2.3" stroke-linejoin="miter"/>
<line x1="478.38" y1="301.7052" x2="478.38" y2="300.2796" stroke="#000" stroke-width="1.8"/>
<line x1="473.78" y1="300.2796" x2="482.98" y2="300.2796" stroke="#000" stroke-width="1.8"/>
<path d="M470.53,304.20 L470.53,301.71 L486.23,301.71 L486.23,304.20" fill="#999999" stroke="#000" stroke-width="2.3" stroke-linejoin="miter"/>
<line x1="317.5" y1="183.4" x2="317.5" y2="305.59999999999997" stroke="#000" stroke-width="2.8"/>
<line x1="316.1" y1="304.2" x2="491.6" y2="304.2" stroke="#000" stroke-width="2.9"/>
<line x1="313.2" y1="304.2" x2="317.5" y2="304.2" stroke="#000" stroke-width="2"/>
<text x="308" y="305.7" font-size="9.5" font-weight="bold" text-anchor="end" fill="#000" stroke="#000" stroke-width="0.4" stroke-linejoin="round" textLength="4.7" lengthAdjust="spacingAndGlyphs">0</text>
<line x1="313.2" y1="280.44" x2="317.5" y2="280.44" stroke="#000" stroke-width="2"/>
<text x="308" y="281.94" font-size="9.5" font-weight="bold" text-anchor="end" fill="#000" stroke="#000" stroke-width="0.4" stroke-linejoin="round" textLength="8.9" lengthAdjust="spacingAndGlyphs">20</text>
<line x1="313.2" y1="256.68" x2="317.5" y2="256.68" stroke="#000" stroke-width="2"/>
<text x="308" y="258.18" font-size="9.5" font-weight="bold" text-anchor="end" fill="#000" stroke="#000" stroke-width="0.4" stroke-linejoin="round" textLength="8.9" lengthAdjust="spacingAndGlyphs">40</text>
<line x1="313.2" y1="232.92" x2="317.5" y2="232.92" stroke="#000" stroke-width="2"/>
<text x="308" y="234.42" font-size="9.5" font-weight="bold" text-anchor="end" fill="#000" stroke="#000" stroke-width="0.4" stroke-linejoin="round" textLength="8.9" lengthAdjust="spacingAndGlyphs">60</text>
<line x1="313.2" y1="209.16" x2="317.5" y2="209.16" stroke="#000" stroke-width="2"/>
<text x="308" y="210.66" font-size="9.5" font-weight="bold" text-anchor="end" fill="#000" stroke="#000" stroke-width="0.4" stroke-linejoin="round" textLength="8.9" lengthAdjust="spacingAndGlyphs">80</text>
<line x1="313.2" y1="185.39999999999998" x2="317.5" y2="185.39999999999998" stroke="#000" stroke-width="2"/>
<text x="308" y="186.89999999999998" font-size="9.5" font-weight="bold" text-anchor="end" fill="#000" stroke="#000" stroke-width="0.4" stroke-linejoin="round" textLength="13.2" lengthAdjust="spacingAndGlyphs">100</text>
<line x1="329.7" y1="304.2" x2="329.7" y2="309.2" stroke="#000" stroke-width="2.2"/>
<line x1="354.48" y1="304.2" x2="354.48" y2="309.2" stroke="#000" stroke-width="2.2"/>
<line x1="379.26" y1="304.2" x2="379.26" y2="309.2" stroke="#000" stroke-width="2.2"/>
<line x1="404.03999999999996" y1="304.2" x2="404.03999999999996" y2="309.2" stroke="#000" stroke-width="2.2"/>
<line x1="428.82" y1="304.2" x2="428.82" y2="309.2" stroke="#000" stroke-width="2.2"/>
<line x1="453.6" y1="304.2" x2="453.6" y2="309.2" stroke="#000" stroke-width="2.2"/>
<line x1="478.38" y1="304.2" x2="478.38" y2="309.2" stroke="#000" stroke-width="2.2"/>
<text x="287.6" y="246.6" font-size="10.6" font-weight="bold" text-anchor="middle" fill="#000" stroke="#000" stroke-width="0.45" stroke-linejoin="round" transform="rotate(-90 287.6 246.6)">% proliferation</text>
<text x="354.9" y="267.6" font-size="12" font-weight="bold" text-anchor="middle" fill="#000" stroke="#000" stroke-width="0.3" stroke-linejoin="round">*</text>
<text x="379.3" y="288.0" font-size="12" font-weight="bold" text-anchor="middle" fill="#000" stroke="#000" stroke-width="0.3" stroke-linejoin="round">*</text>
<text x="404.1" y="291.4" font-size="12" font-weight="bold" text-anchor="middle" fill="#000" stroke="#000" stroke-width="0.3" stroke-linejoin="round">*</text>
<text x="428.9" y="262.4" font-size="12" font-weight="bold" text-anchor="middle" fill="#000" stroke="#000" stroke-width="0.3" stroke-linejoin="round">*</text>
<text x="453.7" y="269.0" font-size="12" font-weight="bold" text-anchor="middle" fill="#000" stroke="#000" stroke-width="0.3" stroke-linejoin="round">*</text>
<text x="478.3" y="293.4" font-size="12" font-weight="bold" text-anchor="middle" fill="#000" stroke="#000" stroke-width="0.3" stroke-linejoin="round">*</text>
<text x="332.59999999999997" y="316.6" font-size="8.25" font-weight="bold" text-anchor="end" fill="#000" stroke="#000" stroke-width="0.45" stroke-linejoin="round" transform="rotate(-45 332.59999999999997 316.6)">WT CD25- ONLY</text>
<text x="357.38" y="316.6" font-size="8.25" font-weight="bold" text-anchor="end" fill="#000" stroke="#000" stroke-width="0.45" stroke-linejoin="round" transform="rotate(-45 357.38 316.6)">ΔIP/ΔIP CD25- ONLY</text>
<text x="382.15999999999997" y="316.6" font-size="8.25" font-weight="bold" text-anchor="end" fill="#000" stroke="#000" stroke-width="0.45" stroke-linejoin="round" transform="rotate(-45 382.15999999999997 316.6)">WT CD25+ 1:2</text>
<text x="406.93999999999994" y="316.6" font-size="8.25" font-weight="bold" text-anchor="end" fill="#000" stroke="#000" stroke-width="0.45" stroke-linejoin="round" transform="rotate(-45 406.93999999999994 316.6)">ΔIP/ΔIP CD25+ 1:2</text>
<text x="431.71999999999997" y="316.6" font-size="8.25" font-weight="bold" text-anchor="end" fill="#000" stroke="#000" stroke-width="0.45" stroke-linejoin="round" transform="rotate(-45 431.71999999999997 316.6)">ΔIP/ΔIP CD25- 1:1</text>
<text x="456.5" y="316.6" font-size="8.25" font-weight="bold" text-anchor="end" fill="#000" stroke="#000" stroke-width="0.45" stroke-linejoin="round" transform="rotate(-45 456.5 316.6)">Syngeneic</text>
<text x="481.28" y="316.6" font-size="8.25" font-weight="bold" text-anchor="end" fill="#000" stroke="#000" stroke-width="0.45" stroke-linejoin="round" transform="rotate(-45 481.28 316.6)">effectors only</text>
<path d="M319.35,542.60 L319.35,405.40 L327.15,405.40 L327.15,542.60" fill="#999999" stroke="#000" stroke-width="2.3" stroke-linejoin="miter"/>
<path d="M331.35,542.60 L331.35,405.40 L339.25,405.40 L339.25,542.60" fill="#000" stroke="#000" stroke-width="2.3" stroke-linejoin="miter"/>
<path d="M343.25,542.60 L343.25,405.40 L350.75,405.40 L350.75,542.60" fill="#fff" stroke="#000" stroke-width="2.3" stroke-linejoin="miter"/>
<line x1="388.0" y1="510.6324" x2="388.0" y2="503.7724" stroke="#000" stroke-width="1.6"/>
<line x1="384.4" y1="503.7724" x2="391.6" y2="503.7724" stroke="#000" stroke-width="1.6"/>
<path d="M384.55,542.60 L384.55,510.63 L391.45,510.63 L391.45,542.60" fill="#fff" stroke="#000" stroke-width="2.3" stroke-linejoin="miter"/>
<text x="388.0" y="500.5" font-size="11" font-weight="bold" text-anchor="middle" fill="#000" stroke="#000" stroke-width="0.3" stroke-linejoin="round">*</text>
<line x1="404.6" y1="534.2308" x2="404.6" y2="532.3100000000001" stroke="#000" stroke-width="1.6"/>
<line x1="401.0" y1="532.3100000000001" x2="408.20000000000005" y2="532.3100000000001" stroke="#000" stroke-width="1.6"/>
<path d="M401.65,542.60 L401.65,534.23 L407.55,534.23 L407.55,542.60" fill="#999999" stroke="#000" stroke-width="2.3" stroke-linejoin="miter"/>
<text x="404.6" y="530.1" font-size="11" font-weight="bold" text-anchor="middle" fill="#000" stroke="#000" stroke-width="0.3" stroke-linejoin="round">*</text>
<line x1="416.29999999999995" y1="538.8956000000001" x2="416.29999999999995" y2="537.6608" stroke="#000" stroke-width="1.6"/>
<line x1="412.69999999999993" y1="537.6608" x2="419.9" y2="537.6608" stroke="#000" stroke-width="1.6"/>
<path d="M412.85,542.60 L412.85,538.90 L419.75,538.90 L419.75,542.60" fill="#000" stroke="#000" stroke-width="2.3" stroke-linejoin="miter"/>
<text x="416.29999999999995" y="536.5" font-size="11" font-weight="bold" text-anchor="middle" fill="#000" stroke="#000" stroke-width="0.3" stroke-linejoin="round">*</text>
<line x1="428.55" y1="459.7312" x2="428.55" y2="451.2248" stroke="#000" stroke-width="1.6"/>
<line x1="424.95" y1="451.2248" x2="432.15000000000003" y2="451.2248" stroke="#000" stroke-width="1.6"/>
<path d="M425.25,542.60 L425.25,459.73 L431.85,459.73 L431.85,542.60" fill="#fff" stroke="#000" stroke-width="2.3" stroke-linejoin="miter"/>
<text x="428.55" y="448.5" font-size="11" font-weight="bold" text-anchor="middle" fill="#000" stroke="#000" stroke-width="0.3" stroke-linejoin="round">*</text>
<line x1="445.75" y1="522.8432" x2="445.75" y2="519.6876" stroke="#000" stroke-width="1.6"/>
<line x1="442.15" y1="519.6876" x2="449.35" y2="519.6876" stroke="#000" stroke-width="1.6"/>
<path d="M442.75,542.60 L442.75,522.84 L448.75,522.84 L448.75,542.60" fill="#999999" stroke="#000" stroke-width="2.3" stroke-linejoin="miter"/>
<text x="445.75" y="518.0" font-size="11" font-weight="bold" text-anchor="middle" fill="#000" stroke="#000" stroke-width="0.3" stroke-linejoin="round">*</text>
<line x1="456.55" y1="526.4104" x2="456.55" y2="524.4896" stroke="#000" stroke-width="1.6"/>
<line x1="452.95" y1="524.4896" x2="460.15000000000003" y2="524.4896" stroke="#000" stroke-width="1.6"/>
<path d="M453.25,542.60 L453.25,526.41 L459.85,526.41 L459.85,542.60" fill="#000" stroke="#000" stroke-width="2.3" stroke-linejoin="miter"/>
<text x="456.55" y="522.1" font-size="11" font-weight="bold" text-anchor="middle" fill="#000" stroke="#000" stroke-width="0.3" stroke-linejoin="round">*</text>
<line x1="469.2" y1="446.42280000000005" x2="469.2" y2="435.44680000000005" stroke="#000" stroke-width="1.6"/>
<line x1="465.59999999999997" y1="435.44680000000005" x2="472.8" y2="435.44680000000005" stroke="#000" stroke-width="1.6"/>
<path d="M466.05,542.60 L466.05,446.42 L472.35,446.42 L472.35,542.60" fill="#fff" stroke="#000" stroke-width="2.3" stroke-linejoin="miter"/>
<text x="469.2" y="431.9" font-size="11" font-weight="bold" text-anchor="middle" fill="#000" stroke="#000" stroke-width="0.3" stroke-linejoin="round">*</text>
<line x1="486.7" y1="497.5984" x2="486.7" y2="486.75960000000003" stroke="#000" stroke-width="1.6"/>
<line x1="483.09999999999997" y1="486.75960000000003" x2="490.3" y2="486.75960000000003" stroke="#000" stroke-width="1.6"/>
<path d="M483.55,542.60 L483.55,497.60 L489.85,497.60 L489.85,542.60" fill="#999999" stroke="#000" stroke-width="2.3" stroke-linejoin="miter"/>
<text x="486.7" y="483.5" font-size="11" font-weight="bold" text-anchor="middle" fill="#000" stroke="#000" stroke-width="0.3" stroke-linejoin="round">*</text>
<line x1="497.9" y1="510.4952" x2="497.9" y2="503.22360000000003" stroke="#000" stroke-width="1.6"/>
<line x1="494.29999999999995" y1="503.22360000000003" x2="501.5" y2="503.22360000000003" stroke="#000" stroke-width="1.6"/>
<path d="M494.75,542.60 L494.75,510.50 L501.05,510.50 L501.05,542.60" fill="#000" stroke="#000" stroke-width="2.3" stroke-linejoin="miter"/>
<text x="497.9" y="501.4" font-size="11" font-weight="bold" text-anchor="middle" fill="#000" stroke="#000" stroke-width="0.3" stroke-linejoin="round">*</text>
<line x1="509.84999999999997" y1="421.178" x2="509.84999999999997" y2="410.202" stroke="#000" stroke-width="1.6"/>
<line x1="506.24999999999994" y1="410.202" x2="513.4499999999999" y2="410.202" stroke="#000" stroke-width="1.6"/>
<path d="M506.55,542.60 L506.55,421.18 L513.15,421.18 L513.15,542.60" fill="#fff" stroke="#000" stroke-width="2.3" stroke-linejoin="miter"/>
<line x1="314.3" y1="403.2" x2="314.3" y2="544.0" stroke="#000" stroke-width="2.8"/>
<line x1="312.9" y1="542.6" x2="520" y2="542.6" stroke="#000" stroke-width="2.8"/>
<line x1="309.8" y1="542.6" x2="314.3" y2="542.6" stroke="#000" stroke-width="1.9"/>
<text x="305" y="546.0" font-size="9.1" font-weight="bold" text-anchor="end" fill="#000" stroke="#000" stroke-width="0.4" stroke-linejoin="round" textLength="5.6" lengthAdjust="spacingAndGlyphs">0</text>
<line x1="309.8" y1="515.16" x2="314.3" y2="515.16" stroke="#000" stroke-width="1.9"/>
<text x="305" y="518.56" font-size="9.1" font-weight="bold" text-anchor="end" fill="#000" stroke="#000" stroke-width="0.4" stroke-linejoin="round" textLength="11.0" lengthAdjust="spacingAndGlyphs">20</text>
<line x1="309.8" y1="487.72" x2="314.3" y2="487.72" stroke="#000" stroke-width="1.9"/>
<text x="305" y="491.12" font-size="9.1" font-weight="bold" text-anchor="end" fill="#000" stroke="#000" stroke-width="0.4" stroke-linejoin="round" textLength="11.0" lengthAdjust="spacingAndGlyphs">40</text>
<line x1="309.8" y1="460.28000000000003" x2="314.3" y2="460.28000000000003" stroke="#000" stroke-width="1.9"/>
<text x="305" y="463.68" font-size="9.1" font-weight="bold" text-anchor="end" fill="#000" stroke="#000" stroke-width="0.4" stroke-linejoin="round" textLength="11.0" lengthAdjust="spacingAndGlyphs">60</text>
<line x1="309.8" y1="432.84000000000003" x2="314.3" y2="432.84000000000003" stroke="#000" stroke-width="1.9"/>
<text x="305" y="436.24" font-size="9.1" font-weight="bold" text-anchor="end" fill="#000" stroke="#000" stroke-width="0.4" stroke-linejoin="round" textLength="11.0" lengthAdjust="spacingAndGlyphs">80</text>
<line x1="309.8" y1="405.4" x2="314.3" y2="405.4" stroke="#000" stroke-width="1.9"/>
<text x="305" y="408.79999999999995" font-size="9.1" font-weight="bold" text-anchor="end" fill="#000" stroke="#000" stroke-width="0.4" stroke-linejoin="round" textLength="16.6" lengthAdjust="spacingAndGlyphs">100</text>
<line x1="355.7" y1="542.6" x2="355.7" y2="548.6" stroke="#000" stroke-width="1.9"/>
<line x1="395.8" y1="542.6" x2="395.8" y2="548.6" stroke="#000" stroke-width="1.9"/>
<line x1="436.8" y1="542.6" x2="436.8" y2="548.6" stroke="#000" stroke-width="1.9"/>
<line x1="477.6" y1="542.6" x2="477.6" y2="548.6" stroke="#000" stroke-width="1.9"/>
<text x="286.3" y="475.3" font-size="10.6" font-weight="bold" text-anchor="middle" fill="#000" stroke="#000" stroke-width="0.45" stroke-linejoin="round" transform="rotate(-90 286.3 475.3)">% proliferation</text>
<rect x="360.00" y="404.60" width="74.60" height="30.40" fill="#fff" stroke="#666" stroke-width="0.9"/>
<rect x="364.20" y="408.40" width="6.00" height="6.00" fill="#999999" stroke="#000" stroke-width="0.9"/>
<rect x="364.20" y="416.90" width="6.00" height="6.00" fill="#000" stroke="#000" stroke-width="0.9"/>
<rect x="364.20" y="425.60" width="6.00" height="6.00" fill="#fff" stroke="#000" stroke-width="0.9"/>
<text x="373.8" y="413.6" font-size="8.2" font-weight="bold" text-anchor="start" fill="#000" stroke="#000" stroke-width="0.4" stroke-linejoin="round" textLength="42.4" lengthAdjust="spacingAndGlyphs">WT CD25+</text>
<text x="373.8" y="422.5" font-size="8.2" font-weight="bold" text-anchor="start" fill="#000" stroke="#000" stroke-width="0.4" stroke-linejoin="round" textLength="57.2" lengthAdjust="spacingAndGlyphs">ΔIP/ΔIP CD25+</text>
<text x="373.8" y="431.4" font-size="8.2" font-weight="bold" text-anchor="start" fill="#000" stroke="#000" stroke-width="0.4" stroke-linejoin="round" textLength="54.6" lengthAdjust="spacingAndGlyphs">ΔIP/ΔIP CD25-</text>
<text x="334.3" y="554.8" font-size="8.6" font-weight="bold" text-anchor="middle" fill="#000" stroke="#000" stroke-width="0.4" stroke-linejoin="round" textLength="41" lengthAdjust="spacingAndGlyphs">WT CD25-</text>
<text x="334" y="563.6" font-size="8.6" font-weight="bold" text-anchor="middle" fill="#000" stroke="#000" stroke-width="0.4" stroke-linejoin="round">Only</text>
<text x="373.5" y="556.1" font-size="12" font-weight="bold" text-anchor="middle" fill="#000" stroke="#000" stroke-width="0.4" stroke-linejoin="round">1:1</text>
<text x="414.2" y="556.1" font-size="12" font-weight="bold" text-anchor="middle" fill="#000" stroke="#000" stroke-width="0.4" stroke-linejoin="round">1:2</text>
<text x="454.2" y="556.1" font-size="12" font-weight="bold" text-anchor="middle" fill="#000" stroke="#000" stroke-width="0.4" stroke-linejoin="round">1:4</text>
<text x="495.5" y="556.1" font-size="12" font-weight="bold" text-anchor="middle" fill="#000" stroke="#000" stroke-width="0.4" stroke-linejoin="round">1:8</text>
</svg>
</body></html>
